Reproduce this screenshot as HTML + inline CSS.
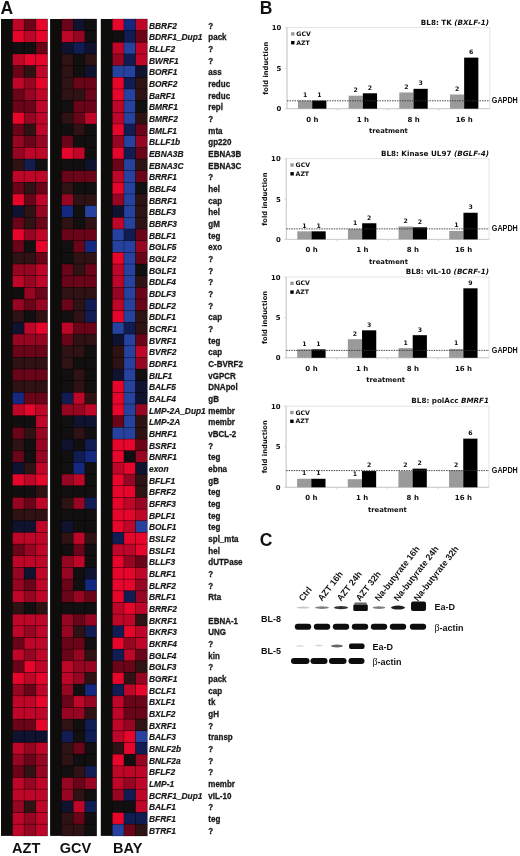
<!DOCTYPE html><html><head><meta charset="utf-8"><title>Figure</title><style>
html,body{margin:0;padding:0;background:#fff;}body{width:520px;height:856px;overflow:hidden;position:relative;}
svg{position:absolute;left:0;top:0;}
.g{font-family:"Liberation Sans",Arial,sans-serif;font-weight:bold;font-style:italic;font-size:8.4px;fill:#1a1a1a;stroke:#1a1a1a;stroke-width:0.2px;}
.f{font-family:"Liberation Sans",Arial,sans-serif;font-weight:bold;font-size:8.9px;fill:#1a1a1a;stroke:#1a1a1a;stroke-width:0.3px;}
.pl{font-family:"Liberation Sans",Arial,sans-serif;font-weight:bold;font-size:17.5px;fill:#111;}
.bl{font-family:"Liberation Sans",Arial,sans-serif;font-weight:bold;font-size:14.5px;fill:#111;}
.c{font-family:"DejaVu Sans",Verdana,sans-serif;font-weight:bold;fill:#111;}
.ln{font-family:"Liberation Sans",Arial,sans-serif;font-weight:bold;font-size:8.9px;fill:#161616;}
.lb{font-family:"Liberation Sans",Arial,sans-serif;font-weight:bold;font-size:9px;fill:#111;}
</style></head><body>
<svg width="520" height="856" viewBox="0 0 520 856">
<text class="pl" x="0.5" y="13.8">A</text>
<rect x="1.0" y="19.0" width="46.4" height="816.90" fill="#0f0c0c"/>
<rect x="50.1" y="19.0" width="46.4" height="816.90" fill="#0f0c0c"/>
<rect x="100.8" y="19.0" width="46.4" height="816.90" fill="#0f0c0c"/>
<rect x="12.60" y="19.00" width="11.65" height="11.72" fill="#be0628" stroke="rgba(0,0,0,0.35)" stroke-width="0.7"/>
<rect x="24.20" y="19.00" width="11.65" height="11.72" fill="#6a0418" stroke="rgba(0,0,0,0.35)" stroke-width="0.7"/>
<rect x="35.80" y="19.00" width="11.65" height="11.72" fill="#e6062c" stroke="rgba(0,0,0,0.35)" stroke-width="0.7"/>
<rect x="61.70" y="19.00" width="11.65" height="11.72" fill="#6a0418" stroke="rgba(0,0,0,0.35)" stroke-width="0.7"/>
<rect x="73.30" y="19.00" width="11.65" height="11.72" fill="#0f1330" stroke="rgba(0,0,0,0.35)" stroke-width="0.7"/>
<rect x="84.90" y="19.00" width="11.65" height="11.72" fill="#120f10" stroke="rgba(0,0,0,0.35)" stroke-width="0.7"/>
<rect x="112.40" y="19.00" width="11.65" height="11.72" fill="#e6062c" stroke="rgba(0,0,0,0.35)" stroke-width="0.7"/>
<rect x="124.00" y="19.00" width="11.65" height="11.72" fill="#13287e" stroke="rgba(0,0,0,0.35)" stroke-width="0.7"/>
<rect x="135.60" y="19.00" width="11.65" height="11.72" fill="#be0628" stroke="rgba(0,0,0,0.35)" stroke-width="0.7"/>
<text class="g" x="149" y="28.54">BBRF2</text>
<text class="f" transform="translate(208.3,28.54) scale(0.9,1)">?</text>
<rect x="12.60" y="30.67" width="11.65" height="11.72" fill="#e6062c" stroke="rgba(0,0,0,0.35)" stroke-width="0.7"/>
<rect x="24.20" y="30.67" width="11.65" height="11.72" fill="#be0628" stroke="rgba(0,0,0,0.35)" stroke-width="0.7"/>
<rect x="35.80" y="30.67" width="11.65" height="11.72" fill="#e6062c" stroke="rgba(0,0,0,0.35)" stroke-width="0.7"/>
<rect x="61.70" y="30.67" width="11.65" height="11.72" fill="#be0628" stroke="rgba(0,0,0,0.35)" stroke-width="0.7"/>
<rect x="73.30" y="30.67" width="11.65" height="11.72" fill="#960622" stroke="rgba(0,0,0,0.35)" stroke-width="0.7"/>
<rect x="84.90" y="30.67" width="11.65" height="11.72" fill="#120f10" stroke="rgba(0,0,0,0.35)" stroke-width="0.7"/>
<rect x="112.40" y="30.67" width="11.65" height="11.72" fill="#120f10" stroke="rgba(0,0,0,0.35)" stroke-width="0.7"/>
<rect x="124.00" y="30.67" width="11.65" height="11.72" fill="#111d52" stroke="rgba(0,0,0,0.35)" stroke-width="0.7"/>
<rect x="135.60" y="30.67" width="11.65" height="11.72" fill="#6a0418" stroke="rgba(0,0,0,0.35)" stroke-width="0.7"/>
<text class="g" x="149" y="40.21">BDRF1_Dup1</text>
<text class="f" transform="translate(208.3,40.21) scale(0.9,1)">pack</text>
<rect x="12.60" y="42.34" width="11.65" height="11.72" fill="#120f10" stroke="rgba(0,0,0,0.35)" stroke-width="0.7"/>
<rect x="24.20" y="42.34" width="11.65" height="11.72" fill="#120f10" stroke="rgba(0,0,0,0.35)" stroke-width="0.7"/>
<rect x="35.80" y="42.34" width="11.65" height="11.72" fill="#6a0418" stroke="rgba(0,0,0,0.35)" stroke-width="0.7"/>
<rect x="61.70" y="42.34" width="11.65" height="11.72" fill="#0f1330" stroke="rgba(0,0,0,0.35)" stroke-width="0.7"/>
<rect x="73.30" y="42.34" width="11.65" height="11.72" fill="#111d52" stroke="rgba(0,0,0,0.35)" stroke-width="0.7"/>
<rect x="84.90" y="42.34" width="11.65" height="11.72" fill="#0f1330" stroke="rgba(0,0,0,0.35)" stroke-width="0.7"/>
<rect x="112.40" y="42.34" width="11.65" height="11.72" fill="#be0628" stroke="rgba(0,0,0,0.35)" stroke-width="0.7"/>
<rect x="124.00" y="42.34" width="11.65" height="11.72" fill="#26429e" stroke="rgba(0,0,0,0.35)" stroke-width="0.7"/>
<rect x="135.60" y="42.34" width="11.65" height="11.72" fill="#be0628" stroke="rgba(0,0,0,0.35)" stroke-width="0.7"/>
<text class="g" x="149" y="51.88">BLLF2</text>
<text class="f" transform="translate(208.3,51.88) scale(0.9,1)">?</text>
<rect x="12.60" y="54.01" width="11.65" height="11.72" fill="#be0628" stroke="rgba(0,0,0,0.35)" stroke-width="0.7"/>
<rect x="24.20" y="54.01" width="11.65" height="11.72" fill="#e6062c" stroke="rgba(0,0,0,0.35)" stroke-width="0.7"/>
<rect x="35.80" y="54.01" width="11.65" height="11.72" fill="#e6062c" stroke="rgba(0,0,0,0.35)" stroke-width="0.7"/>
<rect x="61.70" y="54.01" width="11.65" height="11.72" fill="#2e1214" stroke="rgba(0,0,0,0.35)" stroke-width="0.7"/>
<rect x="73.30" y="54.01" width="11.65" height="11.72" fill="#120f10" stroke="rgba(0,0,0,0.35)" stroke-width="0.7"/>
<rect x="84.90" y="54.01" width="11.65" height="11.72" fill="#2e1214" stroke="rgba(0,0,0,0.35)" stroke-width="0.7"/>
<rect x="112.40" y="54.01" width="11.65" height="11.72" fill="#960622" stroke="rgba(0,0,0,0.35)" stroke-width="0.7"/>
<rect x="124.00" y="54.01" width="11.65" height="11.72" fill="#111d52" stroke="rgba(0,0,0,0.35)" stroke-width="0.7"/>
<rect x="135.60" y="54.01" width="11.65" height="11.72" fill="#be0628" stroke="rgba(0,0,0,0.35)" stroke-width="0.7"/>
<text class="g" x="149" y="63.55">BWRF1</text>
<text class="f" transform="translate(208.3,63.55) scale(0.9,1)">?</text>
<rect x="12.60" y="65.68" width="11.65" height="11.72" fill="#6a0418" stroke="rgba(0,0,0,0.35)" stroke-width="0.7"/>
<rect x="24.20" y="65.68" width="11.65" height="11.72" fill="#2e1214" stroke="rgba(0,0,0,0.35)" stroke-width="0.7"/>
<rect x="35.80" y="65.68" width="11.65" height="11.72" fill="#be0628" stroke="rgba(0,0,0,0.35)" stroke-width="0.7"/>
<rect x="61.70" y="65.68" width="11.65" height="11.72" fill="#2e1214" stroke="rgba(0,0,0,0.35)" stroke-width="0.7"/>
<rect x="73.30" y="65.68" width="11.65" height="11.72" fill="#120f10" stroke="rgba(0,0,0,0.35)" stroke-width="0.7"/>
<rect x="84.90" y="65.68" width="11.65" height="11.72" fill="#0f1330" stroke="rgba(0,0,0,0.35)" stroke-width="0.7"/>
<rect x="112.40" y="65.68" width="11.65" height="11.72" fill="#26429e" stroke="rgba(0,0,0,0.35)" stroke-width="0.7"/>
<rect x="124.00" y="65.68" width="11.65" height="11.72" fill="#26429e" stroke="rgba(0,0,0,0.35)" stroke-width="0.7"/>
<rect x="135.60" y="65.68" width="11.65" height="11.72" fill="#0f1330" stroke="rgba(0,0,0,0.35)" stroke-width="0.7"/>
<text class="g" x="149" y="75.22">BORF1</text>
<text class="f" transform="translate(208.3,75.22) scale(0.9,1)">ass</text>
<rect x="12.60" y="77.35" width="11.65" height="11.72" fill="#be0628" stroke="rgba(0,0,0,0.35)" stroke-width="0.7"/>
<rect x="24.20" y="77.35" width="11.65" height="11.72" fill="#960622" stroke="rgba(0,0,0,0.35)" stroke-width="0.7"/>
<rect x="35.80" y="77.35" width="11.65" height="11.72" fill="#e6062c" stroke="rgba(0,0,0,0.35)" stroke-width="0.7"/>
<rect x="61.70" y="77.35" width="11.65" height="11.72" fill="#2e1214" stroke="rgba(0,0,0,0.35)" stroke-width="0.7"/>
<rect x="73.30" y="77.35" width="11.65" height="11.72" fill="#6a0418" stroke="rgba(0,0,0,0.35)" stroke-width="0.7"/>
<rect x="84.90" y="77.35" width="11.65" height="11.72" fill="#6a0418" stroke="rgba(0,0,0,0.35)" stroke-width="0.7"/>
<rect x="112.40" y="77.35" width="11.65" height="11.72" fill="#e6062c" stroke="rgba(0,0,0,0.35)" stroke-width="0.7"/>
<rect x="124.00" y="77.35" width="11.65" height="11.72" fill="#111d52" stroke="rgba(0,0,0,0.35)" stroke-width="0.7"/>
<rect x="135.60" y="77.35" width="11.65" height="11.72" fill="#2e1214" stroke="rgba(0,0,0,0.35)" stroke-width="0.7"/>
<text class="g" x="149" y="86.88">BORF2</text>
<text class="f" transform="translate(208.3,86.88) scale(0.9,1)">reduc</text>
<rect x="12.60" y="89.02" width="11.65" height="11.72" fill="#6a0418" stroke="rgba(0,0,0,0.35)" stroke-width="0.7"/>
<rect x="24.20" y="89.02" width="11.65" height="11.72" fill="#960622" stroke="rgba(0,0,0,0.35)" stroke-width="0.7"/>
<rect x="35.80" y="89.02" width="11.65" height="11.72" fill="#be0628" stroke="rgba(0,0,0,0.35)" stroke-width="0.7"/>
<rect x="61.70" y="89.02" width="11.65" height="11.72" fill="#2e1214" stroke="rgba(0,0,0,0.35)" stroke-width="0.7"/>
<rect x="73.30" y="89.02" width="11.65" height="11.72" fill="#2e1214" stroke="rgba(0,0,0,0.35)" stroke-width="0.7"/>
<rect x="84.90" y="89.02" width="11.65" height="11.72" fill="#6a0418" stroke="rgba(0,0,0,0.35)" stroke-width="0.7"/>
<rect x="112.40" y="89.02" width="11.65" height="11.72" fill="#e6062c" stroke="rgba(0,0,0,0.35)" stroke-width="0.7"/>
<rect x="124.00" y="89.02" width="11.65" height="11.72" fill="#26429e" stroke="rgba(0,0,0,0.35)" stroke-width="0.7"/>
<rect x="135.60" y="89.02" width="11.65" height="11.72" fill="#2e1214" stroke="rgba(0,0,0,0.35)" stroke-width="0.7"/>
<text class="g" x="149" y="98.55">BaRF1</text>
<text class="f" transform="translate(208.3,98.55) scale(0.9,1)">reduc</text>
<rect x="12.60" y="100.69" width="11.65" height="11.72" fill="#6a0418" stroke="rgba(0,0,0,0.35)" stroke-width="0.7"/>
<rect x="24.20" y="100.69" width="11.65" height="11.72" fill="#6a0418" stroke="rgba(0,0,0,0.35)" stroke-width="0.7"/>
<rect x="35.80" y="100.69" width="11.65" height="11.72" fill="#be0628" stroke="rgba(0,0,0,0.35)" stroke-width="0.7"/>
<rect x="61.70" y="100.69" width="11.65" height="11.72" fill="#120f10" stroke="rgba(0,0,0,0.35)" stroke-width="0.7"/>
<rect x="73.30" y="100.69" width="11.65" height="11.72" fill="#6a0418" stroke="rgba(0,0,0,0.35)" stroke-width="0.7"/>
<rect x="84.90" y="100.69" width="11.65" height="11.72" fill="#6a0418" stroke="rgba(0,0,0,0.35)" stroke-width="0.7"/>
<rect x="112.40" y="100.69" width="11.65" height="11.72" fill="#be0628" stroke="rgba(0,0,0,0.35)" stroke-width="0.7"/>
<rect x="124.00" y="100.69" width="11.65" height="11.72" fill="#26429e" stroke="rgba(0,0,0,0.35)" stroke-width="0.7"/>
<rect x="135.60" y="100.69" width="11.65" height="11.72" fill="#120f10" stroke="rgba(0,0,0,0.35)" stroke-width="0.7"/>
<text class="g" x="149" y="110.22">BMRF1</text>
<text class="f" transform="translate(208.3,110.22) scale(0.9,1)">repl</text>
<rect x="12.60" y="112.36" width="11.65" height="11.72" fill="#e6062c" stroke="rgba(0,0,0,0.35)" stroke-width="0.7"/>
<rect x="24.20" y="112.36" width="11.65" height="11.72" fill="#960622" stroke="rgba(0,0,0,0.35)" stroke-width="0.7"/>
<rect x="35.80" y="112.36" width="11.65" height="11.72" fill="#be0628" stroke="rgba(0,0,0,0.35)" stroke-width="0.7"/>
<rect x="61.70" y="112.36" width="11.65" height="11.72" fill="#2e1214" stroke="rgba(0,0,0,0.35)" stroke-width="0.7"/>
<rect x="73.30" y="112.36" width="11.65" height="11.72" fill="#6a0418" stroke="rgba(0,0,0,0.35)" stroke-width="0.7"/>
<rect x="84.90" y="112.36" width="11.65" height="11.72" fill="#be0628" stroke="rgba(0,0,0,0.35)" stroke-width="0.7"/>
<rect x="112.40" y="112.36" width="11.65" height="11.72" fill="#be0628" stroke="rgba(0,0,0,0.35)" stroke-width="0.7"/>
<rect x="124.00" y="112.36" width="11.65" height="11.72" fill="#26429e" stroke="rgba(0,0,0,0.35)" stroke-width="0.7"/>
<rect x="135.60" y="112.36" width="11.65" height="11.72" fill="#2e1214" stroke="rgba(0,0,0,0.35)" stroke-width="0.7"/>
<text class="g" x="149" y="121.89">BMRF2</text>
<text class="f" transform="translate(208.3,121.89) scale(0.9,1)">?</text>
<rect x="12.60" y="124.03" width="11.65" height="11.72" fill="#6a0418" stroke="rgba(0,0,0,0.35)" stroke-width="0.7"/>
<rect x="24.20" y="124.03" width="11.65" height="11.72" fill="#2e1214" stroke="rgba(0,0,0,0.35)" stroke-width="0.7"/>
<rect x="35.80" y="124.03" width="11.65" height="11.72" fill="#be0628" stroke="rgba(0,0,0,0.35)" stroke-width="0.7"/>
<rect x="61.70" y="124.03" width="11.65" height="11.72" fill="#120f10" stroke="rgba(0,0,0,0.35)" stroke-width="0.7"/>
<rect x="73.30" y="124.03" width="11.65" height="11.72" fill="#2e1214" stroke="rgba(0,0,0,0.35)" stroke-width="0.7"/>
<rect x="84.90" y="124.03" width="11.65" height="11.72" fill="#120f10" stroke="rgba(0,0,0,0.35)" stroke-width="0.7"/>
<rect x="112.40" y="124.03" width="11.65" height="11.72" fill="#e6062c" stroke="rgba(0,0,0,0.35)" stroke-width="0.7"/>
<rect x="124.00" y="124.03" width="11.65" height="11.72" fill="#111d52" stroke="rgba(0,0,0,0.35)" stroke-width="0.7"/>
<rect x="135.60" y="124.03" width="11.65" height="11.72" fill="#6a0418" stroke="rgba(0,0,0,0.35)" stroke-width="0.7"/>
<text class="g" x="149" y="133.56">BMLF1</text>
<text class="f" transform="translate(208.3,133.56) scale(0.9,1)">mta</text>
<rect x="12.60" y="135.70" width="11.65" height="11.72" fill="#960622" stroke="rgba(0,0,0,0.35)" stroke-width="0.7"/>
<rect x="24.20" y="135.70" width="11.65" height="11.72" fill="#6a0418" stroke="rgba(0,0,0,0.35)" stroke-width="0.7"/>
<rect x="35.80" y="135.70" width="11.65" height="11.72" fill="#960622" stroke="rgba(0,0,0,0.35)" stroke-width="0.7"/>
<rect x="61.70" y="135.70" width="11.65" height="11.72" fill="#6a0418" stroke="rgba(0,0,0,0.35)" stroke-width="0.7"/>
<rect x="73.30" y="135.70" width="11.65" height="11.72" fill="#120f10" stroke="rgba(0,0,0,0.35)" stroke-width="0.7"/>
<rect x="84.90" y="135.70" width="11.65" height="11.72" fill="#120f10" stroke="rgba(0,0,0,0.35)" stroke-width="0.7"/>
<rect x="112.40" y="135.70" width="11.65" height="11.72" fill="#960622" stroke="rgba(0,0,0,0.35)" stroke-width="0.7"/>
<rect x="124.00" y="135.70" width="11.65" height="11.72" fill="#26429e" stroke="rgba(0,0,0,0.35)" stroke-width="0.7"/>
<rect x="135.60" y="135.70" width="11.65" height="11.72" fill="#960622" stroke="rgba(0,0,0,0.35)" stroke-width="0.7"/>
<text class="g" x="149" y="145.23">BLLF1b</text>
<text class="f" transform="translate(208.3,145.23) scale(0.9,1)">gp220</text>
<rect x="12.60" y="147.37" width="11.65" height="11.72" fill="#960622" stroke="rgba(0,0,0,0.35)" stroke-width="0.7"/>
<rect x="24.20" y="147.37" width="11.65" height="11.72" fill="#be0628" stroke="rgba(0,0,0,0.35)" stroke-width="0.7"/>
<rect x="35.80" y="147.37" width="11.65" height="11.72" fill="#be0628" stroke="rgba(0,0,0,0.35)" stroke-width="0.7"/>
<rect x="61.70" y="147.37" width="11.65" height="11.72" fill="#e6062c" stroke="rgba(0,0,0,0.35)" stroke-width="0.7"/>
<rect x="73.30" y="147.37" width="11.65" height="11.72" fill="#be0628" stroke="rgba(0,0,0,0.35)" stroke-width="0.7"/>
<rect x="84.90" y="147.37" width="11.65" height="11.72" fill="#120f10" stroke="rgba(0,0,0,0.35)" stroke-width="0.7"/>
<rect x="112.40" y="147.37" width="11.65" height="11.72" fill="#e6062c" stroke="rgba(0,0,0,0.35)" stroke-width="0.7"/>
<rect x="124.00" y="147.37" width="11.65" height="11.72" fill="#111d52" stroke="rgba(0,0,0,0.35)" stroke-width="0.7"/>
<rect x="135.60" y="147.37" width="11.65" height="11.72" fill="#6a0418" stroke="rgba(0,0,0,0.35)" stroke-width="0.7"/>
<text class="g" x="149" y="156.91">EBNA3B</text>
<text class="f" transform="translate(208.3,156.91) scale(0.9,1)">EBNA3B</text>
<rect x="12.60" y="159.04" width="11.65" height="11.72" fill="#2e1214" stroke="rgba(0,0,0,0.35)" stroke-width="0.7"/>
<rect x="24.20" y="159.04" width="11.65" height="11.72" fill="#131c4a" stroke="rgba(0,0,0,0.35)" stroke-width="0.7"/>
<rect x="35.80" y="159.04" width="11.65" height="11.72" fill="#120f10" stroke="rgba(0,0,0,0.35)" stroke-width="0.7"/>
<rect x="61.70" y="159.04" width="11.65" height="11.72" fill="#120f10" stroke="rgba(0,0,0,0.35)" stroke-width="0.7"/>
<rect x="73.30" y="159.04" width="11.65" height="11.72" fill="#120f10" stroke="rgba(0,0,0,0.35)" stroke-width="0.7"/>
<rect x="84.90" y="159.04" width="11.65" height="11.72" fill="#0f1330" stroke="rgba(0,0,0,0.35)" stroke-width="0.7"/>
<rect x="112.40" y="159.04" width="11.65" height="11.72" fill="#6a0418" stroke="rgba(0,0,0,0.35)" stroke-width="0.7"/>
<rect x="124.00" y="159.04" width="11.65" height="11.72" fill="#26429e" stroke="rgba(0,0,0,0.35)" stroke-width="0.7"/>
<rect x="135.60" y="159.04" width="11.65" height="11.72" fill="#2e1214" stroke="rgba(0,0,0,0.35)" stroke-width="0.7"/>
<text class="g" x="149" y="168.57">EBNA3C</text>
<text class="f" transform="translate(208.3,168.57) scale(0.9,1)">EBNA3C</text>
<rect x="12.60" y="170.71" width="11.65" height="11.72" fill="#be0628" stroke="rgba(0,0,0,0.35)" stroke-width="0.7"/>
<rect x="24.20" y="170.71" width="11.65" height="11.72" fill="#be0628" stroke="rgba(0,0,0,0.35)" stroke-width="0.7"/>
<rect x="35.80" y="170.71" width="11.65" height="11.72" fill="#be0628" stroke="rgba(0,0,0,0.35)" stroke-width="0.7"/>
<rect x="61.70" y="170.71" width="11.65" height="11.72" fill="#6a0418" stroke="rgba(0,0,0,0.35)" stroke-width="0.7"/>
<rect x="73.30" y="170.71" width="11.65" height="11.72" fill="#6a0418" stroke="rgba(0,0,0,0.35)" stroke-width="0.7"/>
<rect x="84.90" y="170.71" width="11.65" height="11.72" fill="#6a0418" stroke="rgba(0,0,0,0.35)" stroke-width="0.7"/>
<rect x="112.40" y="170.71" width="11.65" height="11.72" fill="#be0628" stroke="rgba(0,0,0,0.35)" stroke-width="0.7"/>
<rect x="124.00" y="170.71" width="11.65" height="11.72" fill="#26429e" stroke="rgba(0,0,0,0.35)" stroke-width="0.7"/>
<rect x="135.60" y="170.71" width="11.65" height="11.72" fill="#6a0418" stroke="rgba(0,0,0,0.35)" stroke-width="0.7"/>
<text class="g" x="149" y="180.25">BRRF1</text>
<text class="f" transform="translate(208.3,180.25) scale(0.9,1)">?</text>
<rect x="12.60" y="182.38" width="11.65" height="11.72" fill="#6a0418" stroke="rgba(0,0,0,0.35)" stroke-width="0.7"/>
<rect x="24.20" y="182.38" width="11.65" height="11.72" fill="#2e1214" stroke="rgba(0,0,0,0.35)" stroke-width="0.7"/>
<rect x="35.80" y="182.38" width="11.65" height="11.72" fill="#6a0418" stroke="rgba(0,0,0,0.35)" stroke-width="0.7"/>
<rect x="61.70" y="182.38" width="11.65" height="11.72" fill="#2e1214" stroke="rgba(0,0,0,0.35)" stroke-width="0.7"/>
<rect x="73.30" y="182.38" width="11.65" height="11.72" fill="#120f10" stroke="rgba(0,0,0,0.35)" stroke-width="0.7"/>
<rect x="84.90" y="182.38" width="11.65" height="11.72" fill="#120f10" stroke="rgba(0,0,0,0.35)" stroke-width="0.7"/>
<rect x="112.40" y="182.38" width="11.65" height="11.72" fill="#e6062c" stroke="rgba(0,0,0,0.35)" stroke-width="0.7"/>
<rect x="124.00" y="182.38" width="11.65" height="11.72" fill="#26429e" stroke="rgba(0,0,0,0.35)" stroke-width="0.7"/>
<rect x="135.60" y="182.38" width="11.65" height="11.72" fill="#120f10" stroke="rgba(0,0,0,0.35)" stroke-width="0.7"/>
<text class="g" x="149" y="191.91">BBLF4</text>
<text class="f" transform="translate(208.3,191.91) scale(0.9,1)">hel</text>
<rect x="12.60" y="194.05" width="11.65" height="11.72" fill="#e6062c" stroke="rgba(0,0,0,0.35)" stroke-width="0.7"/>
<rect x="24.20" y="194.05" width="11.65" height="11.72" fill="#6a0418" stroke="rgba(0,0,0,0.35)" stroke-width="0.7"/>
<rect x="35.80" y="194.05" width="11.65" height="11.72" fill="#be0628" stroke="rgba(0,0,0,0.35)" stroke-width="0.7"/>
<rect x="61.70" y="194.05" width="11.65" height="11.72" fill="#960622" stroke="rgba(0,0,0,0.35)" stroke-width="0.7"/>
<rect x="73.30" y="194.05" width="11.65" height="11.72" fill="#2e1214" stroke="rgba(0,0,0,0.35)" stroke-width="0.7"/>
<rect x="84.90" y="194.05" width="11.65" height="11.72" fill="#2e1214" stroke="rgba(0,0,0,0.35)" stroke-width="0.7"/>
<rect x="112.40" y="194.05" width="11.65" height="11.72" fill="#960622" stroke="rgba(0,0,0,0.35)" stroke-width="0.7"/>
<rect x="124.00" y="194.05" width="11.65" height="11.72" fill="#26429e" stroke="rgba(0,0,0,0.35)" stroke-width="0.7"/>
<rect x="135.60" y="194.05" width="11.65" height="11.72" fill="#2e1214" stroke="rgba(0,0,0,0.35)" stroke-width="0.7"/>
<text class="g" x="149" y="203.59">BBRF1</text>
<text class="f" transform="translate(208.3,203.59) scale(0.9,1)">cap</text>
<rect x="12.60" y="205.72" width="11.65" height="11.72" fill="#0f1330" stroke="rgba(0,0,0,0.35)" stroke-width="0.7"/>
<rect x="24.20" y="205.72" width="11.65" height="11.72" fill="#2e1214" stroke="rgba(0,0,0,0.35)" stroke-width="0.7"/>
<rect x="35.80" y="205.72" width="11.65" height="11.72" fill="#960622" stroke="rgba(0,0,0,0.35)" stroke-width="0.7"/>
<rect x="61.70" y="205.72" width="11.65" height="11.72" fill="#13287e" stroke="rgba(0,0,0,0.35)" stroke-width="0.7"/>
<rect x="73.30" y="205.72" width="11.65" height="11.72" fill="#120f10" stroke="rgba(0,0,0,0.35)" stroke-width="0.7"/>
<rect x="84.90" y="205.72" width="11.65" height="11.72" fill="#26429e" stroke="rgba(0,0,0,0.35)" stroke-width="0.7"/>
<rect x="112.40" y="205.72" width="11.65" height="11.72" fill="#0f1330" stroke="rgba(0,0,0,0.35)" stroke-width="0.7"/>
<rect x="124.00" y="205.72" width="11.65" height="11.72" fill="#26429e" stroke="rgba(0,0,0,0.35)" stroke-width="0.7"/>
<rect x="135.60" y="205.72" width="11.65" height="11.72" fill="#2e1214" stroke="rgba(0,0,0,0.35)" stroke-width="0.7"/>
<text class="g" x="149" y="215.25">BBLF3</text>
<text class="f" transform="translate(208.3,215.25) scale(0.9,1)">hel</text>
<rect x="12.60" y="217.39" width="11.65" height="11.72" fill="#6a0418" stroke="rgba(0,0,0,0.35)" stroke-width="0.7"/>
<rect x="24.20" y="217.39" width="11.65" height="11.72" fill="#2e1214" stroke="rgba(0,0,0,0.35)" stroke-width="0.7"/>
<rect x="35.80" y="217.39" width="11.65" height="11.72" fill="#6a0418" stroke="rgba(0,0,0,0.35)" stroke-width="0.7"/>
<rect x="61.70" y="217.39" width="11.65" height="11.72" fill="#2e1214" stroke="rgba(0,0,0,0.35)" stroke-width="0.7"/>
<rect x="73.30" y="217.39" width="11.65" height="11.72" fill="#120f10" stroke="rgba(0,0,0,0.35)" stroke-width="0.7"/>
<rect x="84.90" y="217.39" width="11.65" height="11.72" fill="#2e1214" stroke="rgba(0,0,0,0.35)" stroke-width="0.7"/>
<rect x="112.40" y="217.39" width="11.65" height="11.72" fill="#be0628" stroke="rgba(0,0,0,0.35)" stroke-width="0.7"/>
<rect x="124.00" y="217.39" width="11.65" height="11.72" fill="#26429e" stroke="rgba(0,0,0,0.35)" stroke-width="0.7"/>
<rect x="135.60" y="217.39" width="11.65" height="11.72" fill="#2e1214" stroke="rgba(0,0,0,0.35)" stroke-width="0.7"/>
<text class="g" x="149" y="226.92">BBRF3</text>
<text class="f" transform="translate(208.3,226.92) scale(0.9,1)">gM</text>
<rect x="12.60" y="229.06" width="11.65" height="11.72" fill="#e6062c" stroke="rgba(0,0,0,0.35)" stroke-width="0.7"/>
<rect x="24.20" y="229.06" width="11.65" height="11.72" fill="#960622" stroke="rgba(0,0,0,0.35)" stroke-width="0.7"/>
<rect x="35.80" y="229.06" width="11.65" height="11.72" fill="#be0628" stroke="rgba(0,0,0,0.35)" stroke-width="0.7"/>
<rect x="61.70" y="229.06" width="11.65" height="11.72" fill="#6a0418" stroke="rgba(0,0,0,0.35)" stroke-width="0.7"/>
<rect x="73.30" y="229.06" width="11.65" height="11.72" fill="#6a0418" stroke="rgba(0,0,0,0.35)" stroke-width="0.7"/>
<rect x="84.90" y="229.06" width="11.65" height="11.72" fill="#6a0418" stroke="rgba(0,0,0,0.35)" stroke-width="0.7"/>
<rect x="112.40" y="229.06" width="11.65" height="11.72" fill="#26429e" stroke="rgba(0,0,0,0.35)" stroke-width="0.7"/>
<rect x="124.00" y="229.06" width="11.65" height="11.72" fill="#111d52" stroke="rgba(0,0,0,0.35)" stroke-width="0.7"/>
<rect x="135.60" y="229.06" width="11.65" height="11.72" fill="#6a0418" stroke="rgba(0,0,0,0.35)" stroke-width="0.7"/>
<text class="g" x="149" y="238.59">BBLF1</text>
<text class="f" transform="translate(208.3,238.59) scale(0.9,1)">teg</text>
<rect x="12.60" y="240.73" width="11.65" height="11.72" fill="#6a0418" stroke="rgba(0,0,0,0.35)" stroke-width="0.7"/>
<rect x="24.20" y="240.73" width="11.65" height="11.72" fill="#120f10" stroke="rgba(0,0,0,0.35)" stroke-width="0.7"/>
<rect x="35.80" y="240.73" width="11.65" height="11.72" fill="#e6062c" stroke="rgba(0,0,0,0.35)" stroke-width="0.7"/>
<rect x="61.70" y="240.73" width="11.65" height="11.72" fill="#120f10" stroke="rgba(0,0,0,0.35)" stroke-width="0.7"/>
<rect x="73.30" y="240.73" width="11.65" height="11.72" fill="#6a0418" stroke="rgba(0,0,0,0.35)" stroke-width="0.7"/>
<rect x="84.90" y="240.73" width="11.65" height="11.72" fill="#13287e" stroke="rgba(0,0,0,0.35)" stroke-width="0.7"/>
<rect x="112.40" y="240.73" width="11.65" height="11.72" fill="#26429e" stroke="rgba(0,0,0,0.35)" stroke-width="0.7"/>
<rect x="124.00" y="240.73" width="11.65" height="11.72" fill="#26429e" stroke="rgba(0,0,0,0.35)" stroke-width="0.7"/>
<rect x="135.60" y="240.73" width="11.65" height="11.72" fill="#960622" stroke="rgba(0,0,0,0.35)" stroke-width="0.7"/>
<text class="g" x="149" y="250.26">BGLF5</text>
<text class="f" transform="translate(208.3,250.26) scale(0.9,1)">exo</text>
<rect x="12.60" y="252.40" width="11.65" height="11.72" fill="#2e1214" stroke="rgba(0,0,0,0.35)" stroke-width="0.7"/>
<rect x="24.20" y="252.40" width="11.65" height="11.72" fill="#2e1214" stroke="rgba(0,0,0,0.35)" stroke-width="0.7"/>
<rect x="35.80" y="252.40" width="11.65" height="11.72" fill="#6a0418" stroke="rgba(0,0,0,0.35)" stroke-width="0.7"/>
<rect x="61.70" y="252.40" width="11.65" height="11.72" fill="#120f10" stroke="rgba(0,0,0,0.35)" stroke-width="0.7"/>
<rect x="73.30" y="252.40" width="11.65" height="11.72" fill="#2e1214" stroke="rgba(0,0,0,0.35)" stroke-width="0.7"/>
<rect x="84.90" y="252.40" width="11.65" height="11.72" fill="#2e1214" stroke="rgba(0,0,0,0.35)" stroke-width="0.7"/>
<rect x="112.40" y="252.40" width="11.65" height="11.72" fill="#e6062c" stroke="rgba(0,0,0,0.35)" stroke-width="0.7"/>
<rect x="124.00" y="252.40" width="11.65" height="11.72" fill="#26429e" stroke="rgba(0,0,0,0.35)" stroke-width="0.7"/>
<rect x="135.60" y="252.40" width="11.65" height="11.72" fill="#6a0418" stroke="rgba(0,0,0,0.35)" stroke-width="0.7"/>
<text class="g" x="149" y="261.94">BGLF2</text>
<text class="f" transform="translate(208.3,261.94) scale(0.9,1)">?</text>
<rect x="12.60" y="264.07" width="11.65" height="11.72" fill="#960622" stroke="rgba(0,0,0,0.35)" stroke-width="0.7"/>
<rect x="24.20" y="264.07" width="11.65" height="11.72" fill="#960622" stroke="rgba(0,0,0,0.35)" stroke-width="0.7"/>
<rect x="35.80" y="264.07" width="11.65" height="11.72" fill="#be0628" stroke="rgba(0,0,0,0.35)" stroke-width="0.7"/>
<rect x="61.70" y="264.07" width="11.65" height="11.72" fill="#6a0418" stroke="rgba(0,0,0,0.35)" stroke-width="0.7"/>
<rect x="73.30" y="264.07" width="11.65" height="11.72" fill="#2e1214" stroke="rgba(0,0,0,0.35)" stroke-width="0.7"/>
<rect x="84.90" y="264.07" width="11.65" height="11.72" fill="#6a0418" stroke="rgba(0,0,0,0.35)" stroke-width="0.7"/>
<rect x="112.40" y="264.07" width="11.65" height="11.72" fill="#be0628" stroke="rgba(0,0,0,0.35)" stroke-width="0.7"/>
<rect x="124.00" y="264.07" width="11.65" height="11.72" fill="#26429e" stroke="rgba(0,0,0,0.35)" stroke-width="0.7"/>
<rect x="135.60" y="264.07" width="11.65" height="11.72" fill="#120f10" stroke="rgba(0,0,0,0.35)" stroke-width="0.7"/>
<text class="g" x="149" y="273.60">BGLF1</text>
<text class="f" transform="translate(208.3,273.60) scale(0.9,1)">?</text>
<rect x="12.60" y="275.74" width="11.65" height="11.72" fill="#be0628" stroke="rgba(0,0,0,0.35)" stroke-width="0.7"/>
<rect x="24.20" y="275.74" width="11.65" height="11.72" fill="#960622" stroke="rgba(0,0,0,0.35)" stroke-width="0.7"/>
<rect x="35.80" y="275.74" width="11.65" height="11.72" fill="#be0628" stroke="rgba(0,0,0,0.35)" stroke-width="0.7"/>
<rect x="61.70" y="275.74" width="11.65" height="11.72" fill="#6a0418" stroke="rgba(0,0,0,0.35)" stroke-width="0.7"/>
<rect x="73.30" y="275.74" width="11.65" height="11.72" fill="#6a0418" stroke="rgba(0,0,0,0.35)" stroke-width="0.7"/>
<rect x="84.90" y="275.74" width="11.65" height="11.72" fill="#6a0418" stroke="rgba(0,0,0,0.35)" stroke-width="0.7"/>
<rect x="112.40" y="275.74" width="11.65" height="11.72" fill="#be0628" stroke="rgba(0,0,0,0.35)" stroke-width="0.7"/>
<rect x="124.00" y="275.74" width="11.65" height="11.72" fill="#26429e" stroke="rgba(0,0,0,0.35)" stroke-width="0.7"/>
<rect x="135.60" y="275.74" width="11.65" height="11.72" fill="#2e1214" stroke="rgba(0,0,0,0.35)" stroke-width="0.7"/>
<text class="g" x="149" y="285.27">BDLF4</text>
<text class="f" transform="translate(208.3,285.27) scale(0.9,1)">?</text>
<rect x="12.60" y="287.41" width="11.65" height="11.72" fill="#120f10" stroke="rgba(0,0,0,0.35)" stroke-width="0.7"/>
<rect x="24.20" y="287.41" width="11.65" height="11.72" fill="#960622" stroke="rgba(0,0,0,0.35)" stroke-width="0.7"/>
<rect x="35.80" y="287.41" width="11.65" height="11.72" fill="#6a0418" stroke="rgba(0,0,0,0.35)" stroke-width="0.7"/>
<rect x="61.70" y="287.41" width="11.65" height="11.72" fill="#2e1214" stroke="rgba(0,0,0,0.35)" stroke-width="0.7"/>
<rect x="73.30" y="287.41" width="11.65" height="11.72" fill="#2e1214" stroke="rgba(0,0,0,0.35)" stroke-width="0.7"/>
<rect x="84.90" y="287.41" width="11.65" height="11.72" fill="#2e1214" stroke="rgba(0,0,0,0.35)" stroke-width="0.7"/>
<rect x="112.40" y="287.41" width="11.65" height="11.72" fill="#960622" stroke="rgba(0,0,0,0.35)" stroke-width="0.7"/>
<rect x="124.00" y="287.41" width="11.65" height="11.72" fill="#26429e" stroke="rgba(0,0,0,0.35)" stroke-width="0.7"/>
<rect x="135.60" y="287.41" width="11.65" height="11.72" fill="#6a0418" stroke="rgba(0,0,0,0.35)" stroke-width="0.7"/>
<text class="g" x="149" y="296.94">BDLF3</text>
<text class="f" transform="translate(208.3,296.94) scale(0.9,1)">?</text>
<rect x="12.60" y="299.08" width="11.65" height="11.72" fill="#960622" stroke="rgba(0,0,0,0.35)" stroke-width="0.7"/>
<rect x="24.20" y="299.08" width="11.65" height="11.72" fill="#6a0418" stroke="rgba(0,0,0,0.35)" stroke-width="0.7"/>
<rect x="35.80" y="299.08" width="11.65" height="11.72" fill="#960622" stroke="rgba(0,0,0,0.35)" stroke-width="0.7"/>
<rect x="61.70" y="299.08" width="11.65" height="11.72" fill="#6a0418" stroke="rgba(0,0,0,0.35)" stroke-width="0.7"/>
<rect x="73.30" y="299.08" width="11.65" height="11.72" fill="#2e1214" stroke="rgba(0,0,0,0.35)" stroke-width="0.7"/>
<rect x="84.90" y="299.08" width="11.65" height="11.72" fill="#111d52" stroke="rgba(0,0,0,0.35)" stroke-width="0.7"/>
<rect x="112.40" y="299.08" width="11.65" height="11.72" fill="#be0628" stroke="rgba(0,0,0,0.35)" stroke-width="0.7"/>
<rect x="124.00" y="299.08" width="11.65" height="11.72" fill="#26429e" stroke="rgba(0,0,0,0.35)" stroke-width="0.7"/>
<rect x="135.60" y="299.08" width="11.65" height="11.72" fill="#6a0418" stroke="rgba(0,0,0,0.35)" stroke-width="0.7"/>
<text class="g" x="149" y="308.61">BDLF2</text>
<text class="f" transform="translate(208.3,308.61) scale(0.9,1)">?</text>
<rect x="12.60" y="310.75" width="11.65" height="11.72" fill="#2e1214" stroke="rgba(0,0,0,0.35)" stroke-width="0.7"/>
<rect x="24.20" y="310.75" width="11.65" height="11.72" fill="#120f10" stroke="rgba(0,0,0,0.35)" stroke-width="0.7"/>
<rect x="35.80" y="310.75" width="11.65" height="11.72" fill="#2e1214" stroke="rgba(0,0,0,0.35)" stroke-width="0.7"/>
<rect x="61.70" y="310.75" width="11.65" height="11.72" fill="#120f10" stroke="rgba(0,0,0,0.35)" stroke-width="0.7"/>
<rect x="73.30" y="310.75" width="11.65" height="11.72" fill="#2e1214" stroke="rgba(0,0,0,0.35)" stroke-width="0.7"/>
<rect x="84.90" y="310.75" width="11.65" height="11.72" fill="#111d52" stroke="rgba(0,0,0,0.35)" stroke-width="0.7"/>
<rect x="112.40" y="310.75" width="11.65" height="11.72" fill="#e6062c" stroke="rgba(0,0,0,0.35)" stroke-width="0.7"/>
<rect x="124.00" y="310.75" width="11.65" height="11.72" fill="#26429e" stroke="rgba(0,0,0,0.35)" stroke-width="0.7"/>
<rect x="135.60" y="310.75" width="11.65" height="11.72" fill="#2e1214" stroke="rgba(0,0,0,0.35)" stroke-width="0.7"/>
<text class="g" x="149" y="320.28">BDLF1</text>
<text class="f" transform="translate(208.3,320.28) scale(0.9,1)">cap</text>
<rect x="12.60" y="322.42" width="11.65" height="11.72" fill="#0f1330" stroke="rgba(0,0,0,0.35)" stroke-width="0.7"/>
<rect x="24.20" y="322.42" width="11.65" height="11.72" fill="#be0628" stroke="rgba(0,0,0,0.35)" stroke-width="0.7"/>
<rect x="35.80" y="322.42" width="11.65" height="11.72" fill="#e6062c" stroke="rgba(0,0,0,0.35)" stroke-width="0.7"/>
<rect x="61.70" y="322.42" width="11.65" height="11.72" fill="#be0628" stroke="rgba(0,0,0,0.35)" stroke-width="0.7"/>
<rect x="73.30" y="322.42" width="11.65" height="11.72" fill="#6a0418" stroke="rgba(0,0,0,0.35)" stroke-width="0.7"/>
<rect x="84.90" y="322.42" width="11.65" height="11.72" fill="#6a0418" stroke="rgba(0,0,0,0.35)" stroke-width="0.7"/>
<rect x="112.40" y="322.42" width="11.65" height="11.72" fill="#26429e" stroke="rgba(0,0,0,0.35)" stroke-width="0.7"/>
<rect x="124.00" y="322.42" width="11.65" height="11.72" fill="#111d52" stroke="rgba(0,0,0,0.35)" stroke-width="0.7"/>
<rect x="135.60" y="322.42" width="11.65" height="11.72" fill="#2e1214" stroke="rgba(0,0,0,0.35)" stroke-width="0.7"/>
<text class="g" x="149" y="331.95">BCRF1</text>
<text class="f" transform="translate(208.3,331.95) scale(0.9,1)">?</text>
<rect x="12.60" y="334.09" width="11.65" height="11.72" fill="#960622" stroke="rgba(0,0,0,0.35)" stroke-width="0.7"/>
<rect x="24.20" y="334.09" width="11.65" height="11.72" fill="#960622" stroke="rgba(0,0,0,0.35)" stroke-width="0.7"/>
<rect x="35.80" y="334.09" width="11.65" height="11.72" fill="#960622" stroke="rgba(0,0,0,0.35)" stroke-width="0.7"/>
<rect x="61.70" y="334.09" width="11.65" height="11.72" fill="#6a0418" stroke="rgba(0,0,0,0.35)" stroke-width="0.7"/>
<rect x="73.30" y="334.09" width="11.65" height="11.72" fill="#2e1214" stroke="rgba(0,0,0,0.35)" stroke-width="0.7"/>
<rect x="84.90" y="334.09" width="11.65" height="11.72" fill="#2e1214" stroke="rgba(0,0,0,0.35)" stroke-width="0.7"/>
<rect x="112.40" y="334.09" width="11.65" height="11.72" fill="#0f1330" stroke="rgba(0,0,0,0.35)" stroke-width="0.7"/>
<rect x="124.00" y="334.09" width="11.65" height="11.72" fill="#26429e" stroke="rgba(0,0,0,0.35)" stroke-width="0.7"/>
<rect x="135.60" y="334.09" width="11.65" height="11.72" fill="#6a0418" stroke="rgba(0,0,0,0.35)" stroke-width="0.7"/>
<text class="g" x="149" y="343.62">BVRF1</text>
<text class="f" transform="translate(208.3,343.62) scale(0.9,1)">teg</text>
<rect x="12.60" y="345.76" width="11.65" height="11.72" fill="#6a0418" stroke="rgba(0,0,0,0.35)" stroke-width="0.7"/>
<rect x="24.20" y="345.76" width="11.65" height="11.72" fill="#6a0418" stroke="rgba(0,0,0,0.35)" stroke-width="0.7"/>
<rect x="35.80" y="345.76" width="11.65" height="11.72" fill="#6a0418" stroke="rgba(0,0,0,0.35)" stroke-width="0.7"/>
<rect x="61.70" y="345.76" width="11.65" height="11.72" fill="#2e1214" stroke="rgba(0,0,0,0.35)" stroke-width="0.7"/>
<rect x="73.30" y="345.76" width="11.65" height="11.72" fill="#2e1214" stroke="rgba(0,0,0,0.35)" stroke-width="0.7"/>
<rect x="84.90" y="345.76" width="11.65" height="11.72" fill="#120f10" stroke="rgba(0,0,0,0.35)" stroke-width="0.7"/>
<rect x="112.40" y="345.76" width="11.65" height="11.72" fill="#2e1214" stroke="rgba(0,0,0,0.35)" stroke-width="0.7"/>
<rect x="124.00" y="345.76" width="11.65" height="11.72" fill="#26429e" stroke="rgba(0,0,0,0.35)" stroke-width="0.7"/>
<rect x="135.60" y="345.76" width="11.65" height="11.72" fill="#be0628" stroke="rgba(0,0,0,0.35)" stroke-width="0.7"/>
<text class="g" x="149" y="355.29">BVRF2</text>
<text class="f" transform="translate(208.3,355.29) scale(0.9,1)">cap</text>
<rect x="12.60" y="357.43" width="11.65" height="11.72" fill="#2e1214" stroke="rgba(0,0,0,0.35)" stroke-width="0.7"/>
<rect x="24.20" y="357.43" width="11.65" height="11.72" fill="#2e1214" stroke="rgba(0,0,0,0.35)" stroke-width="0.7"/>
<rect x="35.80" y="357.43" width="11.65" height="11.72" fill="#2e1214" stroke="rgba(0,0,0,0.35)" stroke-width="0.7"/>
<rect x="61.70" y="357.43" width="11.65" height="11.72" fill="#2e1214" stroke="rgba(0,0,0,0.35)" stroke-width="0.7"/>
<rect x="73.30" y="357.43" width="11.65" height="11.72" fill="#120f10" stroke="rgba(0,0,0,0.35)" stroke-width="0.7"/>
<rect x="84.90" y="357.43" width="11.65" height="11.72" fill="#120f10" stroke="rgba(0,0,0,0.35)" stroke-width="0.7"/>
<rect x="112.40" y="357.43" width="11.65" height="11.72" fill="#2e1214" stroke="rgba(0,0,0,0.35)" stroke-width="0.7"/>
<rect x="124.00" y="357.43" width="11.65" height="11.72" fill="#26429e" stroke="rgba(0,0,0,0.35)" stroke-width="0.7"/>
<rect x="135.60" y="357.43" width="11.65" height="11.72" fill="#960622" stroke="rgba(0,0,0,0.35)" stroke-width="0.7"/>
<text class="g" x="149" y="366.96">BDRF1</text>
<text class="f" transform="translate(208.3,366.96) scale(0.9,1)">C-BVRF2</text>
<rect x="12.60" y="369.10" width="11.65" height="11.72" fill="#6a0418" stroke="rgba(0,0,0,0.35)" stroke-width="0.7"/>
<rect x="24.20" y="369.10" width="11.65" height="11.72" fill="#6a0418" stroke="rgba(0,0,0,0.35)" stroke-width="0.7"/>
<rect x="35.80" y="369.10" width="11.65" height="11.72" fill="#6a0418" stroke="rgba(0,0,0,0.35)" stroke-width="0.7"/>
<rect x="61.70" y="369.10" width="11.65" height="11.72" fill="#120f10" stroke="rgba(0,0,0,0.35)" stroke-width="0.7"/>
<rect x="73.30" y="369.10" width="11.65" height="11.72" fill="#2e1214" stroke="rgba(0,0,0,0.35)" stroke-width="0.7"/>
<rect x="84.90" y="369.10" width="11.65" height="11.72" fill="#120f10" stroke="rgba(0,0,0,0.35)" stroke-width="0.7"/>
<rect x="112.40" y="369.10" width="11.65" height="11.72" fill="#0f1330" stroke="rgba(0,0,0,0.35)" stroke-width="0.7"/>
<rect x="124.00" y="369.10" width="11.65" height="11.72" fill="#26429e" stroke="rgba(0,0,0,0.35)" stroke-width="0.7"/>
<rect x="135.60" y="369.10" width="11.65" height="11.72" fill="#120f10" stroke="rgba(0,0,0,0.35)" stroke-width="0.7"/>
<text class="g" x="149" y="378.63">BILF1</text>
<text class="f" transform="translate(208.3,378.63) scale(0.9,1)">vGPCR</text>
<rect x="12.60" y="380.77" width="11.65" height="11.72" fill="#2e1214" stroke="rgba(0,0,0,0.35)" stroke-width="0.7"/>
<rect x="24.20" y="380.77" width="11.65" height="11.72" fill="#2e1214" stroke="rgba(0,0,0,0.35)" stroke-width="0.7"/>
<rect x="35.80" y="380.77" width="11.65" height="11.72" fill="#2e1214" stroke="rgba(0,0,0,0.35)" stroke-width="0.7"/>
<rect x="61.70" y="380.77" width="11.65" height="11.72" fill="#120f10" stroke="rgba(0,0,0,0.35)" stroke-width="0.7"/>
<rect x="73.30" y="380.77" width="11.65" height="11.72" fill="#2e1214" stroke="rgba(0,0,0,0.35)" stroke-width="0.7"/>
<rect x="84.90" y="380.77" width="11.65" height="11.72" fill="#120f10" stroke="rgba(0,0,0,0.35)" stroke-width="0.7"/>
<rect x="112.40" y="380.77" width="11.65" height="11.72" fill="#e6062c" stroke="rgba(0,0,0,0.35)" stroke-width="0.7"/>
<rect x="124.00" y="380.77" width="11.65" height="11.72" fill="#26429e" stroke="rgba(0,0,0,0.35)" stroke-width="0.7"/>
<rect x="135.60" y="380.77" width="11.65" height="11.72" fill="#0f1330" stroke="rgba(0,0,0,0.35)" stroke-width="0.7"/>
<text class="g" x="149" y="390.30">BALF5</text>
<text class="f" transform="translate(208.3,390.30) scale(0.9,1)">DNApol</text>
<rect x="12.60" y="392.44" width="11.65" height="11.72" fill="#13287e" stroke="rgba(0,0,0,0.35)" stroke-width="0.7"/>
<rect x="24.20" y="392.44" width="11.65" height="11.72" fill="#6a0418" stroke="rgba(0,0,0,0.35)" stroke-width="0.7"/>
<rect x="35.80" y="392.44" width="11.65" height="11.72" fill="#6a0418" stroke="rgba(0,0,0,0.35)" stroke-width="0.7"/>
<rect x="61.70" y="392.44" width="11.65" height="11.72" fill="#111d52" stroke="rgba(0,0,0,0.35)" stroke-width="0.7"/>
<rect x="73.30" y="392.44" width="11.65" height="11.72" fill="#be0628" stroke="rgba(0,0,0,0.35)" stroke-width="0.7"/>
<rect x="84.90" y="392.44" width="11.65" height="11.72" fill="#2e1214" stroke="rgba(0,0,0,0.35)" stroke-width="0.7"/>
<rect x="112.40" y="392.44" width="11.65" height="11.72" fill="#e6062c" stroke="rgba(0,0,0,0.35)" stroke-width="0.7"/>
<rect x="124.00" y="392.44" width="11.65" height="11.72" fill="#26429e" stroke="rgba(0,0,0,0.35)" stroke-width="0.7"/>
<rect x="135.60" y="392.44" width="11.65" height="11.72" fill="#0f1330" stroke="rgba(0,0,0,0.35)" stroke-width="0.7"/>
<text class="g" x="149" y="401.97">BALF4</text>
<text class="f" transform="translate(208.3,401.97) scale(0.9,1)">gB</text>
<rect x="12.60" y="404.11" width="11.65" height="11.72" fill="#be0628" stroke="rgba(0,0,0,0.35)" stroke-width="0.7"/>
<rect x="24.20" y="404.11" width="11.65" height="11.72" fill="#e6062c" stroke="rgba(0,0,0,0.35)" stroke-width="0.7"/>
<rect x="35.80" y="404.11" width="11.65" height="11.72" fill="#be0628" stroke="rgba(0,0,0,0.35)" stroke-width="0.7"/>
<rect x="61.70" y="404.11" width="11.65" height="11.72" fill="#960622" stroke="rgba(0,0,0,0.35)" stroke-width="0.7"/>
<rect x="73.30" y="404.11" width="11.65" height="11.72" fill="#960622" stroke="rgba(0,0,0,0.35)" stroke-width="0.7"/>
<rect x="84.90" y="404.11" width="11.65" height="11.72" fill="#be0628" stroke="rgba(0,0,0,0.35)" stroke-width="0.7"/>
<rect x="112.40" y="404.11" width="11.65" height="11.72" fill="#e6062c" stroke="rgba(0,0,0,0.35)" stroke-width="0.7"/>
<rect x="124.00" y="404.11" width="11.65" height="11.72" fill="#26429e" stroke="rgba(0,0,0,0.35)" stroke-width="0.7"/>
<rect x="135.60" y="404.11" width="11.65" height="11.72" fill="#960622" stroke="rgba(0,0,0,0.35)" stroke-width="0.7"/>
<text class="g" x="149" y="413.64">LMP-2A_Dup1</text>
<text class="f" transform="translate(208.3,413.64) scale(0.9,1)">membr</text>
<rect x="12.60" y="415.78" width="11.65" height="11.72" fill="#120f10" stroke="rgba(0,0,0,0.35)" stroke-width="0.7"/>
<rect x="24.20" y="415.78" width="11.65" height="11.72" fill="#120f10" stroke="rgba(0,0,0,0.35)" stroke-width="0.7"/>
<rect x="35.80" y="415.78" width="11.65" height="11.72" fill="#be0628" stroke="rgba(0,0,0,0.35)" stroke-width="0.7"/>
<rect x="61.70" y="415.78" width="11.65" height="11.72" fill="#120f10" stroke="rgba(0,0,0,0.35)" stroke-width="0.7"/>
<rect x="73.30" y="415.78" width="11.65" height="11.72" fill="#0f1330" stroke="rgba(0,0,0,0.35)" stroke-width="0.7"/>
<rect x="84.90" y="415.78" width="11.65" height="11.72" fill="#0f1330" stroke="rgba(0,0,0,0.35)" stroke-width="0.7"/>
<rect x="112.40" y="415.78" width="11.65" height="11.72" fill="#6a0418" stroke="rgba(0,0,0,0.35)" stroke-width="0.7"/>
<rect x="124.00" y="415.78" width="11.65" height="11.72" fill="#26429e" stroke="rgba(0,0,0,0.35)" stroke-width="0.7"/>
<rect x="135.60" y="415.78" width="11.65" height="11.72" fill="#2e1214" stroke="rgba(0,0,0,0.35)" stroke-width="0.7"/>
<text class="g" x="149" y="425.31">LMP-2A</text>
<text class="f" transform="translate(208.3,425.31) scale(0.9,1)">membr</text>
<rect x="12.60" y="427.45" width="11.65" height="11.72" fill="#6a0418" stroke="rgba(0,0,0,0.35)" stroke-width="0.7"/>
<rect x="24.20" y="427.45" width="11.65" height="11.72" fill="#2e1214" stroke="rgba(0,0,0,0.35)" stroke-width="0.7"/>
<rect x="35.80" y="427.45" width="11.65" height="11.72" fill="#960622" stroke="rgba(0,0,0,0.35)" stroke-width="0.7"/>
<rect x="61.70" y="427.45" width="11.65" height="11.72" fill="#120f10" stroke="rgba(0,0,0,0.35)" stroke-width="0.7"/>
<rect x="73.30" y="427.45" width="11.65" height="11.72" fill="#2e1214" stroke="rgba(0,0,0,0.35)" stroke-width="0.7"/>
<rect x="84.90" y="427.45" width="11.65" height="11.72" fill="#120f10" stroke="rgba(0,0,0,0.35)" stroke-width="0.7"/>
<rect x="112.40" y="427.45" width="11.65" height="11.72" fill="#26429e" stroke="rgba(0,0,0,0.35)" stroke-width="0.7"/>
<rect x="124.00" y="427.45" width="11.65" height="11.72" fill="#26429e" stroke="rgba(0,0,0,0.35)" stroke-width="0.7"/>
<rect x="135.60" y="427.45" width="11.65" height="11.72" fill="#2e1214" stroke="rgba(0,0,0,0.35)" stroke-width="0.7"/>
<text class="g" x="149" y="436.98">BHRF1</text>
<text class="f" transform="translate(208.3,436.98) scale(0.9,1)">vBCL-2</text>
<rect x="12.60" y="439.12" width="11.65" height="11.72" fill="#2e1214" stroke="rgba(0,0,0,0.35)" stroke-width="0.7"/>
<rect x="24.20" y="439.12" width="11.65" height="11.72" fill="#120f10" stroke="rgba(0,0,0,0.35)" stroke-width="0.7"/>
<rect x="35.80" y="439.12" width="11.65" height="11.72" fill="#960622" stroke="rgba(0,0,0,0.35)" stroke-width="0.7"/>
<rect x="61.70" y="439.12" width="11.65" height="11.72" fill="#0f1330" stroke="rgba(0,0,0,0.35)" stroke-width="0.7"/>
<rect x="73.30" y="439.12" width="11.65" height="11.72" fill="#120f10" stroke="rgba(0,0,0,0.35)" stroke-width="0.7"/>
<rect x="84.90" y="439.12" width="11.65" height="11.72" fill="#111d52" stroke="rgba(0,0,0,0.35)" stroke-width="0.7"/>
<rect x="112.40" y="439.12" width="11.65" height="11.72" fill="#e6062c" stroke="rgba(0,0,0,0.35)" stroke-width="0.7"/>
<rect x="124.00" y="439.12" width="11.65" height="11.72" fill="#e6062c" stroke="rgba(0,0,0,0.35)" stroke-width="0.7"/>
<rect x="135.60" y="439.12" width="11.65" height="11.72" fill="#6a0418" stroke="rgba(0,0,0,0.35)" stroke-width="0.7"/>
<text class="g" x="149" y="448.65">BSRF1</text>
<text class="f" transform="translate(208.3,448.65) scale(0.9,1)">?</text>
<rect x="12.60" y="450.79" width="11.65" height="11.72" fill="#6a0418" stroke="rgba(0,0,0,0.35)" stroke-width="0.7"/>
<rect x="24.20" y="450.79" width="11.65" height="11.72" fill="#120f10" stroke="rgba(0,0,0,0.35)" stroke-width="0.7"/>
<rect x="35.80" y="450.79" width="11.65" height="11.72" fill="#960622" stroke="rgba(0,0,0,0.35)" stroke-width="0.7"/>
<rect x="61.70" y="450.79" width="11.65" height="11.72" fill="#120f10" stroke="rgba(0,0,0,0.35)" stroke-width="0.7"/>
<rect x="73.30" y="450.79" width="11.65" height="11.72" fill="#111d52" stroke="rgba(0,0,0,0.35)" stroke-width="0.7"/>
<rect x="84.90" y="450.79" width="11.65" height="11.72" fill="#13287e" stroke="rgba(0,0,0,0.35)" stroke-width="0.7"/>
<rect x="112.40" y="450.79" width="11.65" height="11.72" fill="#e6062c" stroke="rgba(0,0,0,0.35)" stroke-width="0.7"/>
<rect x="124.00" y="450.79" width="11.65" height="11.72" fill="#120f10" stroke="rgba(0,0,0,0.35)" stroke-width="0.7"/>
<rect x="135.60" y="450.79" width="11.65" height="11.72" fill="#960622" stroke="rgba(0,0,0,0.35)" stroke-width="0.7"/>
<text class="g" x="149" y="460.32">BNRF1</text>
<text class="f" transform="translate(208.3,460.32) scale(0.9,1)">teg</text>
<rect x="12.60" y="462.46" width="11.65" height="11.72" fill="#0f1330" stroke="rgba(0,0,0,0.35)" stroke-width="0.7"/>
<rect x="24.20" y="462.46" width="11.65" height="11.72" fill="#2e1214" stroke="rgba(0,0,0,0.35)" stroke-width="0.7"/>
<rect x="35.80" y="462.46" width="11.65" height="11.72" fill="#be0628" stroke="rgba(0,0,0,0.35)" stroke-width="0.7"/>
<rect x="61.70" y="462.46" width="11.65" height="11.72" fill="#120f10" stroke="rgba(0,0,0,0.35)" stroke-width="0.7"/>
<rect x="73.30" y="462.46" width="11.65" height="11.72" fill="#13287e" stroke="rgba(0,0,0,0.35)" stroke-width="0.7"/>
<rect x="84.90" y="462.46" width="11.65" height="11.72" fill="#120f10" stroke="rgba(0,0,0,0.35)" stroke-width="0.7"/>
<rect x="112.40" y="462.46" width="11.65" height="11.72" fill="#be0628" stroke="rgba(0,0,0,0.35)" stroke-width="0.7"/>
<rect x="124.00" y="462.46" width="11.65" height="11.72" fill="#e6062c" stroke="rgba(0,0,0,0.35)" stroke-width="0.7"/>
<rect x="135.60" y="462.46" width="11.65" height="11.72" fill="#0f1330" stroke="rgba(0,0,0,0.35)" stroke-width="0.7"/>
<text class="g" x="149" y="471.99">exon</text>
<text class="f" transform="translate(208.3,471.99) scale(0.9,1)">ebna</text>
<rect x="12.60" y="474.13" width="11.65" height="11.72" fill="#e6062c" stroke="rgba(0,0,0,0.35)" stroke-width="0.7"/>
<rect x="24.20" y="474.13" width="11.65" height="11.72" fill="#be0628" stroke="rgba(0,0,0,0.35)" stroke-width="0.7"/>
<rect x="35.80" y="474.13" width="11.65" height="11.72" fill="#e6062c" stroke="rgba(0,0,0,0.35)" stroke-width="0.7"/>
<rect x="61.70" y="474.13" width="11.65" height="11.72" fill="#960622" stroke="rgba(0,0,0,0.35)" stroke-width="0.7"/>
<rect x="73.30" y="474.13" width="11.65" height="11.72" fill="#be0628" stroke="rgba(0,0,0,0.35)" stroke-width="0.7"/>
<rect x="84.90" y="474.13" width="11.65" height="11.72" fill="#120f10" stroke="rgba(0,0,0,0.35)" stroke-width="0.7"/>
<rect x="112.40" y="474.13" width="11.65" height="11.72" fill="#e6062c" stroke="rgba(0,0,0,0.35)" stroke-width="0.7"/>
<rect x="124.00" y="474.13" width="11.65" height="11.72" fill="#960622" stroke="rgba(0,0,0,0.35)" stroke-width="0.7"/>
<rect x="135.60" y="474.13" width="11.65" height="11.72" fill="#2e1214" stroke="rgba(0,0,0,0.35)" stroke-width="0.7"/>
<text class="g" x="149" y="483.66">BFLF1</text>
<text class="f" transform="translate(208.3,483.66) scale(0.9,1)">gB</text>
<rect x="12.60" y="485.80" width="11.65" height="11.72" fill="#120f10" stroke="rgba(0,0,0,0.35)" stroke-width="0.7"/>
<rect x="24.20" y="485.80" width="11.65" height="11.72" fill="#120f10" stroke="rgba(0,0,0,0.35)" stroke-width="0.7"/>
<rect x="35.80" y="485.80" width="11.65" height="11.72" fill="#2e1214" stroke="rgba(0,0,0,0.35)" stroke-width="0.7"/>
<rect x="61.70" y="485.80" width="11.65" height="11.72" fill="#120f10" stroke="rgba(0,0,0,0.35)" stroke-width="0.7"/>
<rect x="73.30" y="485.80" width="11.65" height="11.72" fill="#120f10" stroke="rgba(0,0,0,0.35)" stroke-width="0.7"/>
<rect x="84.90" y="485.80" width="11.65" height="11.72" fill="#120f10" stroke="rgba(0,0,0,0.35)" stroke-width="0.7"/>
<rect x="112.40" y="485.80" width="11.65" height="11.72" fill="#e6062c" stroke="rgba(0,0,0,0.35)" stroke-width="0.7"/>
<rect x="124.00" y="485.80" width="11.65" height="11.72" fill="#e6062c" stroke="rgba(0,0,0,0.35)" stroke-width="0.7"/>
<rect x="135.60" y="485.80" width="11.65" height="11.72" fill="#2e1214" stroke="rgba(0,0,0,0.35)" stroke-width="0.7"/>
<text class="g" x="149" y="495.33">BFRF2</text>
<text class="f" transform="translate(208.3,495.33) scale(0.9,1)">teg</text>
<rect x="12.60" y="497.47" width="11.65" height="11.72" fill="#960622" stroke="rgba(0,0,0,0.35)" stroke-width="0.7"/>
<rect x="24.20" y="497.47" width="11.65" height="11.72" fill="#6a0418" stroke="rgba(0,0,0,0.35)" stroke-width="0.7"/>
<rect x="35.80" y="497.47" width="11.65" height="11.72" fill="#be0628" stroke="rgba(0,0,0,0.35)" stroke-width="0.7"/>
<rect x="61.70" y="497.47" width="11.65" height="11.72" fill="#2e1214" stroke="rgba(0,0,0,0.35)" stroke-width="0.7"/>
<rect x="73.30" y="497.47" width="11.65" height="11.72" fill="#960622" stroke="rgba(0,0,0,0.35)" stroke-width="0.7"/>
<rect x="84.90" y="497.47" width="11.65" height="11.72" fill="#111d52" stroke="rgba(0,0,0,0.35)" stroke-width="0.7"/>
<rect x="112.40" y="497.47" width="11.65" height="11.72" fill="#e6062c" stroke="rgba(0,0,0,0.35)" stroke-width="0.7"/>
<rect x="124.00" y="497.47" width="11.65" height="11.72" fill="#be0628" stroke="rgba(0,0,0,0.35)" stroke-width="0.7"/>
<rect x="135.60" y="497.47" width="11.65" height="11.72" fill="#960622" stroke="rgba(0,0,0,0.35)" stroke-width="0.7"/>
<text class="g" x="149" y="507.00">BFRF3</text>
<text class="f" transform="translate(208.3,507.00) scale(0.9,1)">teg</text>
<rect x="12.60" y="509.14" width="11.65" height="11.72" fill="#2e1214" stroke="rgba(0,0,0,0.35)" stroke-width="0.7"/>
<rect x="24.20" y="509.14" width="11.65" height="11.72" fill="#2e1214" stroke="rgba(0,0,0,0.35)" stroke-width="0.7"/>
<rect x="35.80" y="509.14" width="11.65" height="11.72" fill="#2e1214" stroke="rgba(0,0,0,0.35)" stroke-width="0.7"/>
<rect x="61.70" y="509.14" width="11.65" height="11.72" fill="#120f10" stroke="rgba(0,0,0,0.35)" stroke-width="0.7"/>
<rect x="73.30" y="509.14" width="11.65" height="11.72" fill="#120f10" stroke="rgba(0,0,0,0.35)" stroke-width="0.7"/>
<rect x="84.90" y="509.14" width="11.65" height="11.72" fill="#120f10" stroke="rgba(0,0,0,0.35)" stroke-width="0.7"/>
<rect x="112.40" y="509.14" width="11.65" height="11.72" fill="#e6062c" stroke="rgba(0,0,0,0.35)" stroke-width="0.7"/>
<rect x="124.00" y="509.14" width="11.65" height="11.72" fill="#e6062c" stroke="rgba(0,0,0,0.35)" stroke-width="0.7"/>
<rect x="135.60" y="509.14" width="11.65" height="11.72" fill="#be0628" stroke="rgba(0,0,0,0.35)" stroke-width="0.7"/>
<text class="g" x="149" y="518.68">BPLF1</text>
<text class="f" transform="translate(208.3,518.68) scale(0.9,1)">teg</text>
<rect x="12.60" y="520.81" width="11.65" height="11.72" fill="#0f1330" stroke="rgba(0,0,0,0.35)" stroke-width="0.7"/>
<rect x="24.20" y="520.81" width="11.65" height="11.72" fill="#0f1330" stroke="rgba(0,0,0,0.35)" stroke-width="0.7"/>
<rect x="35.80" y="520.81" width="11.65" height="11.72" fill="#be0628" stroke="rgba(0,0,0,0.35)" stroke-width="0.7"/>
<rect x="61.70" y="520.81" width="11.65" height="11.72" fill="#0f1330" stroke="rgba(0,0,0,0.35)" stroke-width="0.7"/>
<rect x="73.30" y="520.81" width="11.65" height="11.72" fill="#120f10" stroke="rgba(0,0,0,0.35)" stroke-width="0.7"/>
<rect x="84.90" y="520.81" width="11.65" height="11.72" fill="#120f10" stroke="rgba(0,0,0,0.35)" stroke-width="0.7"/>
<rect x="112.40" y="520.81" width="11.65" height="11.72" fill="#e6062c" stroke="rgba(0,0,0,0.35)" stroke-width="0.7"/>
<rect x="124.00" y="520.81" width="11.65" height="11.72" fill="#be0628" stroke="rgba(0,0,0,0.35)" stroke-width="0.7"/>
<rect x="135.60" y="520.81" width="11.65" height="11.72" fill="#26429e" stroke="rgba(0,0,0,0.35)" stroke-width="0.7"/>
<text class="g" x="149" y="530.35">BOLF1</text>
<text class="f" transform="translate(208.3,530.35) scale(0.9,1)">teg</text>
<rect x="12.60" y="532.48" width="11.65" height="11.72" fill="#be0628" stroke="rgba(0,0,0,0.35)" stroke-width="0.7"/>
<rect x="24.20" y="532.48" width="11.65" height="11.72" fill="#be0628" stroke="rgba(0,0,0,0.35)" stroke-width="0.7"/>
<rect x="35.80" y="532.48" width="11.65" height="11.72" fill="#be0628" stroke="rgba(0,0,0,0.35)" stroke-width="0.7"/>
<rect x="61.70" y="532.48" width="11.65" height="11.72" fill="#2e1214" stroke="rgba(0,0,0,0.35)" stroke-width="0.7"/>
<rect x="73.30" y="532.48" width="11.65" height="11.72" fill="#be0628" stroke="rgba(0,0,0,0.35)" stroke-width="0.7"/>
<rect x="84.90" y="532.48" width="11.65" height="11.72" fill="#2e1214" stroke="rgba(0,0,0,0.35)" stroke-width="0.7"/>
<rect x="112.40" y="532.48" width="11.65" height="11.72" fill="#111d52" stroke="rgba(0,0,0,0.35)" stroke-width="0.7"/>
<rect x="124.00" y="532.48" width="11.65" height="11.72" fill="#e6062c" stroke="rgba(0,0,0,0.35)" stroke-width="0.7"/>
<rect x="135.60" y="532.48" width="11.65" height="11.72" fill="#e6062c" stroke="rgba(0,0,0,0.35)" stroke-width="0.7"/>
<text class="g" x="149" y="542.02">BSLF2</text>
<text class="f" transform="translate(208.3,542.02) scale(0.9,1)">spl_mta</text>
<rect x="12.60" y="544.15" width="11.65" height="11.72" fill="#6a0418" stroke="rgba(0,0,0,0.35)" stroke-width="0.7"/>
<rect x="24.20" y="544.15" width="11.65" height="11.72" fill="#960622" stroke="rgba(0,0,0,0.35)" stroke-width="0.7"/>
<rect x="35.80" y="544.15" width="11.65" height="11.72" fill="#be0628" stroke="rgba(0,0,0,0.35)" stroke-width="0.7"/>
<rect x="61.70" y="544.15" width="11.65" height="11.72" fill="#120f10" stroke="rgba(0,0,0,0.35)" stroke-width="0.7"/>
<rect x="73.30" y="544.15" width="11.65" height="11.72" fill="#6a0418" stroke="rgba(0,0,0,0.35)" stroke-width="0.7"/>
<rect x="84.90" y="544.15" width="11.65" height="11.72" fill="#120f10" stroke="rgba(0,0,0,0.35)" stroke-width="0.7"/>
<rect x="112.40" y="544.15" width="11.65" height="11.72" fill="#be0628" stroke="rgba(0,0,0,0.35)" stroke-width="0.7"/>
<rect x="124.00" y="544.15" width="11.65" height="11.72" fill="#be0628" stroke="rgba(0,0,0,0.35)" stroke-width="0.7"/>
<rect x="135.60" y="544.15" width="11.65" height="11.72" fill="#e6062c" stroke="rgba(0,0,0,0.35)" stroke-width="0.7"/>
<text class="g" x="149" y="553.69">BSLF1</text>
<text class="f" transform="translate(208.3,553.69) scale(0.9,1)">hel</text>
<rect x="12.60" y="555.82" width="11.65" height="11.72" fill="#be0628" stroke="rgba(0,0,0,0.35)" stroke-width="0.7"/>
<rect x="24.20" y="555.82" width="11.65" height="11.72" fill="#be0628" stroke="rgba(0,0,0,0.35)" stroke-width="0.7"/>
<rect x="35.80" y="555.82" width="11.65" height="11.72" fill="#be0628" stroke="rgba(0,0,0,0.35)" stroke-width="0.7"/>
<rect x="61.70" y="555.82" width="11.65" height="11.72" fill="#960622" stroke="rgba(0,0,0,0.35)" stroke-width="0.7"/>
<rect x="73.30" y="555.82" width="11.65" height="11.72" fill="#be0628" stroke="rgba(0,0,0,0.35)" stroke-width="0.7"/>
<rect x="84.90" y="555.82" width="11.65" height="11.72" fill="#120f10" stroke="rgba(0,0,0,0.35)" stroke-width="0.7"/>
<rect x="112.40" y="555.82" width="11.65" height="11.72" fill="#e6062c" stroke="rgba(0,0,0,0.35)" stroke-width="0.7"/>
<rect x="124.00" y="555.82" width="11.65" height="11.72" fill="#960622" stroke="rgba(0,0,0,0.35)" stroke-width="0.7"/>
<rect x="135.60" y="555.82" width="11.65" height="11.72" fill="#6a0418" stroke="rgba(0,0,0,0.35)" stroke-width="0.7"/>
<text class="g" x="149" y="565.36">BLLF3</text>
<text class="f" transform="translate(208.3,565.36) scale(0.9,1)">dUTPase</text>
<rect x="12.60" y="567.49" width="11.65" height="11.72" fill="#960622" stroke="rgba(0,0,0,0.35)" stroke-width="0.7"/>
<rect x="24.20" y="567.49" width="11.65" height="11.72" fill="#0f1330" stroke="rgba(0,0,0,0.35)" stroke-width="0.7"/>
<rect x="35.80" y="567.49" width="11.65" height="11.72" fill="#be0628" stroke="rgba(0,0,0,0.35)" stroke-width="0.7"/>
<rect x="61.70" y="567.49" width="11.65" height="11.72" fill="#960622" stroke="rgba(0,0,0,0.35)" stroke-width="0.7"/>
<rect x="73.30" y="567.49" width="11.65" height="11.72" fill="#120f10" stroke="rgba(0,0,0,0.35)" stroke-width="0.7"/>
<rect x="84.90" y="567.49" width="11.65" height="11.72" fill="#0f1330" stroke="rgba(0,0,0,0.35)" stroke-width="0.7"/>
<rect x="112.40" y="567.49" width="11.65" height="11.72" fill="#e6062c" stroke="rgba(0,0,0,0.35)" stroke-width="0.7"/>
<rect x="124.00" y="567.49" width="11.65" height="11.72" fill="#e6062c" stroke="rgba(0,0,0,0.35)" stroke-width="0.7"/>
<rect x="135.60" y="567.49" width="11.65" height="11.72" fill="#be0628" stroke="rgba(0,0,0,0.35)" stroke-width="0.7"/>
<text class="g" x="149" y="577.03">BLRF1</text>
<text class="f" transform="translate(208.3,577.03) scale(0.9,1)">?</text>
<rect x="12.60" y="579.16" width="11.65" height="11.72" fill="#960622" stroke="rgba(0,0,0,0.35)" stroke-width="0.7"/>
<rect x="24.20" y="579.16" width="11.65" height="11.72" fill="#6a0418" stroke="rgba(0,0,0,0.35)" stroke-width="0.7"/>
<rect x="35.80" y="579.16" width="11.65" height="11.72" fill="#be0628" stroke="rgba(0,0,0,0.35)" stroke-width="0.7"/>
<rect x="61.70" y="579.16" width="11.65" height="11.72" fill="#6a0418" stroke="rgba(0,0,0,0.35)" stroke-width="0.7"/>
<rect x="73.30" y="579.16" width="11.65" height="11.72" fill="#120f10" stroke="rgba(0,0,0,0.35)" stroke-width="0.7"/>
<rect x="84.90" y="579.16" width="11.65" height="11.72" fill="#13287e" stroke="rgba(0,0,0,0.35)" stroke-width="0.7"/>
<rect x="112.40" y="579.16" width="11.65" height="11.72" fill="#e6062c" stroke="rgba(0,0,0,0.35)" stroke-width="0.7"/>
<rect x="124.00" y="579.16" width="11.65" height="11.72" fill="#e6062c" stroke="rgba(0,0,0,0.35)" stroke-width="0.7"/>
<rect x="135.60" y="579.16" width="11.65" height="11.72" fill="#960622" stroke="rgba(0,0,0,0.35)" stroke-width="0.7"/>
<text class="g" x="149" y="588.70">BLRF2</text>
<text class="f" transform="translate(208.3,588.70) scale(0.9,1)">?</text>
<rect x="12.60" y="590.83" width="11.65" height="11.72" fill="#be0628" stroke="rgba(0,0,0,0.35)" stroke-width="0.7"/>
<rect x="24.20" y="590.83" width="11.65" height="11.72" fill="#960622" stroke="rgba(0,0,0,0.35)" stroke-width="0.7"/>
<rect x="35.80" y="590.83" width="11.65" height="11.72" fill="#be0628" stroke="rgba(0,0,0,0.35)" stroke-width="0.7"/>
<rect x="61.70" y="590.83" width="11.65" height="11.72" fill="#6a0418" stroke="rgba(0,0,0,0.35)" stroke-width="0.7"/>
<rect x="73.30" y="590.83" width="11.65" height="11.72" fill="#960622" stroke="rgba(0,0,0,0.35)" stroke-width="0.7"/>
<rect x="84.90" y="590.83" width="11.65" height="11.72" fill="#6a0418" stroke="rgba(0,0,0,0.35)" stroke-width="0.7"/>
<rect x="112.40" y="590.83" width="11.65" height="11.72" fill="#e6062c" stroke="rgba(0,0,0,0.35)" stroke-width="0.7"/>
<rect x="124.00" y="590.83" width="11.65" height="11.72" fill="#111d52" stroke="rgba(0,0,0,0.35)" stroke-width="0.7"/>
<rect x="135.60" y="590.83" width="11.65" height="11.72" fill="#960622" stroke="rgba(0,0,0,0.35)" stroke-width="0.7"/>
<text class="g" x="149" y="600.37">BRLF1</text>
<text class="f" transform="translate(208.3,600.37) scale(0.9,1)">Rta</text>
<rect x="12.60" y="602.50" width="11.65" height="11.72" fill="#2e1214" stroke="rgba(0,0,0,0.35)" stroke-width="0.7"/>
<rect x="24.20" y="602.50" width="11.65" height="11.72" fill="#120f10" stroke="rgba(0,0,0,0.35)" stroke-width="0.7"/>
<rect x="35.80" y="602.50" width="11.65" height="11.72" fill="#2e1214" stroke="rgba(0,0,0,0.35)" stroke-width="0.7"/>
<rect x="61.70" y="602.50" width="11.65" height="11.72" fill="#120f10" stroke="rgba(0,0,0,0.35)" stroke-width="0.7"/>
<rect x="73.30" y="602.50" width="11.65" height="11.72" fill="#120f10" stroke="rgba(0,0,0,0.35)" stroke-width="0.7"/>
<rect x="84.90" y="602.50" width="11.65" height="11.72" fill="#120f10" stroke="rgba(0,0,0,0.35)" stroke-width="0.7"/>
<rect x="112.40" y="602.50" width="11.65" height="11.72" fill="#be0628" stroke="rgba(0,0,0,0.35)" stroke-width="0.7"/>
<rect x="124.00" y="602.50" width="11.65" height="11.72" fill="#e6062c" stroke="rgba(0,0,0,0.35)" stroke-width="0.7"/>
<rect x="135.60" y="602.50" width="11.65" height="11.72" fill="#be0628" stroke="rgba(0,0,0,0.35)" stroke-width="0.7"/>
<text class="g" x="149" y="612.04">BRRF2</text>
<rect x="12.60" y="614.17" width="11.65" height="11.72" fill="#be0628" stroke="rgba(0,0,0,0.35)" stroke-width="0.7"/>
<rect x="24.20" y="614.17" width="11.65" height="11.72" fill="#be0628" stroke="rgba(0,0,0,0.35)" stroke-width="0.7"/>
<rect x="35.80" y="614.17" width="11.65" height="11.72" fill="#be0628" stroke="rgba(0,0,0,0.35)" stroke-width="0.7"/>
<rect x="61.70" y="614.17" width="11.65" height="11.72" fill="#960622" stroke="rgba(0,0,0,0.35)" stroke-width="0.7"/>
<rect x="73.30" y="614.17" width="11.65" height="11.72" fill="#6a0418" stroke="rgba(0,0,0,0.35)" stroke-width="0.7"/>
<rect x="84.90" y="614.17" width="11.65" height="11.72" fill="#960622" stroke="rgba(0,0,0,0.35)" stroke-width="0.7"/>
<rect x="112.40" y="614.17" width="11.65" height="11.72" fill="#be0628" stroke="rgba(0,0,0,0.35)" stroke-width="0.7"/>
<rect x="124.00" y="614.17" width="11.65" height="11.72" fill="#be0628" stroke="rgba(0,0,0,0.35)" stroke-width="0.7"/>
<rect x="135.60" y="614.17" width="11.65" height="11.72" fill="#2e1214" stroke="rgba(0,0,0,0.35)" stroke-width="0.7"/>
<text class="g" x="149" y="623.71">BKRF1</text>
<text class="f" transform="translate(208.3,623.71) scale(0.9,1)">EBNA-1</text>
<rect x="12.60" y="625.84" width="11.65" height="11.72" fill="#be0628" stroke="rgba(0,0,0,0.35)" stroke-width="0.7"/>
<rect x="24.20" y="625.84" width="11.65" height="11.72" fill="#960622" stroke="rgba(0,0,0,0.35)" stroke-width="0.7"/>
<rect x="35.80" y="625.84" width="11.65" height="11.72" fill="#be0628" stroke="rgba(0,0,0,0.35)" stroke-width="0.7"/>
<rect x="61.70" y="625.84" width="11.65" height="11.72" fill="#960622" stroke="rgba(0,0,0,0.35)" stroke-width="0.7"/>
<rect x="73.30" y="625.84" width="11.65" height="11.72" fill="#2e1214" stroke="rgba(0,0,0,0.35)" stroke-width="0.7"/>
<rect x="84.90" y="625.84" width="11.65" height="11.72" fill="#111d52" stroke="rgba(0,0,0,0.35)" stroke-width="0.7"/>
<rect x="112.40" y="625.84" width="11.65" height="11.72" fill="#111d52" stroke="rgba(0,0,0,0.35)" stroke-width="0.7"/>
<rect x="124.00" y="625.84" width="11.65" height="11.72" fill="#e6062c" stroke="rgba(0,0,0,0.35)" stroke-width="0.7"/>
<rect x="135.60" y="625.84" width="11.65" height="11.72" fill="#be0628" stroke="rgba(0,0,0,0.35)" stroke-width="0.7"/>
<text class="g" x="149" y="635.38">BKRF3</text>
<text class="f" transform="translate(208.3,635.38) scale(0.9,1)">UNG</text>
<rect x="12.60" y="637.51" width="11.65" height="11.72" fill="#6a0418" stroke="rgba(0,0,0,0.35)" stroke-width="0.7"/>
<rect x="24.20" y="637.51" width="11.65" height="11.72" fill="#be0628" stroke="rgba(0,0,0,0.35)" stroke-width="0.7"/>
<rect x="35.80" y="637.51" width="11.65" height="11.72" fill="#be0628" stroke="rgba(0,0,0,0.35)" stroke-width="0.7"/>
<rect x="61.70" y="637.51" width="11.65" height="11.72" fill="#6a0418" stroke="rgba(0,0,0,0.35)" stroke-width="0.7"/>
<rect x="73.30" y="637.51" width="11.65" height="11.72" fill="#6a0418" stroke="rgba(0,0,0,0.35)" stroke-width="0.7"/>
<rect x="84.90" y="637.51" width="11.65" height="11.72" fill="#120f10" stroke="rgba(0,0,0,0.35)" stroke-width="0.7"/>
<rect x="112.40" y="637.51" width="11.65" height="11.72" fill="#e6062c" stroke="rgba(0,0,0,0.35)" stroke-width="0.7"/>
<rect x="124.00" y="637.51" width="11.65" height="11.72" fill="#960622" stroke="rgba(0,0,0,0.35)" stroke-width="0.7"/>
<rect x="135.60" y="637.51" width="11.65" height="11.72" fill="#be0628" stroke="rgba(0,0,0,0.35)" stroke-width="0.7"/>
<text class="g" x="149" y="647.05">BKRF4</text>
<text class="f" transform="translate(208.3,647.05) scale(0.9,1)">?</text>
<rect x="12.60" y="649.18" width="11.65" height="11.72" fill="#be0628" stroke="rgba(0,0,0,0.35)" stroke-width="0.7"/>
<rect x="24.20" y="649.18" width="11.65" height="11.72" fill="#960622" stroke="rgba(0,0,0,0.35)" stroke-width="0.7"/>
<rect x="35.80" y="649.18" width="11.65" height="11.72" fill="#be0628" stroke="rgba(0,0,0,0.35)" stroke-width="0.7"/>
<rect x="61.70" y="649.18" width="11.65" height="11.72" fill="#6a0418" stroke="rgba(0,0,0,0.35)" stroke-width="0.7"/>
<rect x="73.30" y="649.18" width="11.65" height="11.72" fill="#960622" stroke="rgba(0,0,0,0.35)" stroke-width="0.7"/>
<rect x="84.90" y="649.18" width="11.65" height="11.72" fill="#2e1214" stroke="rgba(0,0,0,0.35)" stroke-width="0.7"/>
<rect x="112.40" y="649.18" width="11.65" height="11.72" fill="#111d52" stroke="rgba(0,0,0,0.35)" stroke-width="0.7"/>
<rect x="124.00" y="649.18" width="11.65" height="11.72" fill="#be0628" stroke="rgba(0,0,0,0.35)" stroke-width="0.7"/>
<rect x="135.60" y="649.18" width="11.65" height="11.72" fill="#6a0418" stroke="rgba(0,0,0,0.35)" stroke-width="0.7"/>
<text class="g" x="149" y="658.72">BGLF4</text>
<text class="f" transform="translate(208.3,658.72) scale(0.9,1)">kin</text>
<rect x="12.60" y="660.85" width="11.65" height="11.72" fill="#6a0418" stroke="rgba(0,0,0,0.35)" stroke-width="0.7"/>
<rect x="24.20" y="660.85" width="11.65" height="11.72" fill="#e6062c" stroke="rgba(0,0,0,0.35)" stroke-width="0.7"/>
<rect x="35.80" y="660.85" width="11.65" height="11.72" fill="#be0628" stroke="rgba(0,0,0,0.35)" stroke-width="0.7"/>
<rect x="61.70" y="660.85" width="11.65" height="11.72" fill="#be0628" stroke="rgba(0,0,0,0.35)" stroke-width="0.7"/>
<rect x="73.30" y="660.85" width="11.65" height="11.72" fill="#960622" stroke="rgba(0,0,0,0.35)" stroke-width="0.7"/>
<rect x="84.90" y="660.85" width="11.65" height="11.72" fill="#960622" stroke="rgba(0,0,0,0.35)" stroke-width="0.7"/>
<rect x="112.40" y="660.85" width="11.65" height="11.72" fill="#6a0418" stroke="rgba(0,0,0,0.35)" stroke-width="0.7"/>
<rect x="124.00" y="660.85" width="11.65" height="11.72" fill="#6a0418" stroke="rgba(0,0,0,0.35)" stroke-width="0.7"/>
<rect x="135.60" y="660.85" width="11.65" height="11.72" fill="#2e1214" stroke="rgba(0,0,0,0.35)" stroke-width="0.7"/>
<text class="g" x="149" y="670.39">BGLF3</text>
<text class="f" transform="translate(208.3,670.39) scale(0.9,1)">?</text>
<rect x="12.60" y="672.52" width="11.65" height="11.72" fill="#e6062c" stroke="rgba(0,0,0,0.35)" stroke-width="0.7"/>
<rect x="24.20" y="672.52" width="11.65" height="11.72" fill="#be0628" stroke="rgba(0,0,0,0.35)" stroke-width="0.7"/>
<rect x="35.80" y="672.52" width="11.65" height="11.72" fill="#e6062c" stroke="rgba(0,0,0,0.35)" stroke-width="0.7"/>
<rect x="61.70" y="672.52" width="11.65" height="11.72" fill="#be0628" stroke="rgba(0,0,0,0.35)" stroke-width="0.7"/>
<rect x="73.30" y="672.52" width="11.65" height="11.72" fill="#960622" stroke="rgba(0,0,0,0.35)" stroke-width="0.7"/>
<rect x="84.90" y="672.52" width="11.65" height="11.72" fill="#2e1214" stroke="rgba(0,0,0,0.35)" stroke-width="0.7"/>
<rect x="112.40" y="672.52" width="11.65" height="11.72" fill="#e6062c" stroke="rgba(0,0,0,0.35)" stroke-width="0.7"/>
<rect x="124.00" y="672.52" width="11.65" height="11.72" fill="#2e1214" stroke="rgba(0,0,0,0.35)" stroke-width="0.7"/>
<rect x="135.60" y="672.52" width="11.65" height="11.72" fill="#960622" stroke="rgba(0,0,0,0.35)" stroke-width="0.7"/>
<text class="g" x="149" y="682.06">BGRF1</text>
<text class="f" transform="translate(208.3,682.06) scale(0.9,1)">pack</text>
<rect x="12.60" y="684.19" width="11.65" height="11.72" fill="#960622" stroke="rgba(0,0,0,0.35)" stroke-width="0.7"/>
<rect x="24.20" y="684.19" width="11.65" height="11.72" fill="#6a0418" stroke="rgba(0,0,0,0.35)" stroke-width="0.7"/>
<rect x="35.80" y="684.19" width="11.65" height="11.72" fill="#be0628" stroke="rgba(0,0,0,0.35)" stroke-width="0.7"/>
<rect x="61.70" y="684.19" width="11.65" height="11.72" fill="#960622" stroke="rgba(0,0,0,0.35)" stroke-width="0.7"/>
<rect x="73.30" y="684.19" width="11.65" height="11.72" fill="#120f10" stroke="rgba(0,0,0,0.35)" stroke-width="0.7"/>
<rect x="84.90" y="684.19" width="11.65" height="11.72" fill="#13287e" stroke="rgba(0,0,0,0.35)" stroke-width="0.7"/>
<rect x="112.40" y="684.19" width="11.65" height="11.72" fill="#111d52" stroke="rgba(0,0,0,0.35)" stroke-width="0.7"/>
<rect x="124.00" y="684.19" width="11.65" height="11.72" fill="#be0628" stroke="rgba(0,0,0,0.35)" stroke-width="0.7"/>
<rect x="135.60" y="684.19" width="11.65" height="11.72" fill="#e6062c" stroke="rgba(0,0,0,0.35)" stroke-width="0.7"/>
<text class="g" x="149" y="693.73">BCLF1</text>
<text class="f" transform="translate(208.3,693.73) scale(0.9,1)">cap</text>
<rect x="12.60" y="695.86" width="11.65" height="11.72" fill="#be0628" stroke="rgba(0,0,0,0.35)" stroke-width="0.7"/>
<rect x="24.20" y="695.86" width="11.65" height="11.72" fill="#be0628" stroke="rgba(0,0,0,0.35)" stroke-width="0.7"/>
<rect x="35.80" y="695.86" width="11.65" height="11.72" fill="#e6062c" stroke="rgba(0,0,0,0.35)" stroke-width="0.7"/>
<rect x="61.70" y="695.86" width="11.65" height="11.72" fill="#6a0418" stroke="rgba(0,0,0,0.35)" stroke-width="0.7"/>
<rect x="73.30" y="695.86" width="11.65" height="11.72" fill="#be0628" stroke="rgba(0,0,0,0.35)" stroke-width="0.7"/>
<rect x="84.90" y="695.86" width="11.65" height="11.72" fill="#960622" stroke="rgba(0,0,0,0.35)" stroke-width="0.7"/>
<rect x="112.40" y="695.86" width="11.65" height="11.72" fill="#be0628" stroke="rgba(0,0,0,0.35)" stroke-width="0.7"/>
<rect x="124.00" y="695.86" width="11.65" height="11.72" fill="#6a0418" stroke="rgba(0,0,0,0.35)" stroke-width="0.7"/>
<rect x="135.60" y="695.86" width="11.65" height="11.72" fill="#6a0418" stroke="rgba(0,0,0,0.35)" stroke-width="0.7"/>
<text class="g" x="149" y="705.40">BXLF1</text>
<text class="f" transform="translate(208.3,705.40) scale(0.9,1)">tk</text>
<rect x="12.60" y="707.53" width="11.65" height="11.72" fill="#be0628" stroke="rgba(0,0,0,0.35)" stroke-width="0.7"/>
<rect x="24.20" y="707.53" width="11.65" height="11.72" fill="#be0628" stroke="rgba(0,0,0,0.35)" stroke-width="0.7"/>
<rect x="35.80" y="707.53" width="11.65" height="11.72" fill="#be0628" stroke="rgba(0,0,0,0.35)" stroke-width="0.7"/>
<rect x="61.70" y="707.53" width="11.65" height="11.72" fill="#960622" stroke="rgba(0,0,0,0.35)" stroke-width="0.7"/>
<rect x="73.30" y="707.53" width="11.65" height="11.72" fill="#960622" stroke="rgba(0,0,0,0.35)" stroke-width="0.7"/>
<rect x="84.90" y="707.53" width="11.65" height="11.72" fill="#2e1214" stroke="rgba(0,0,0,0.35)" stroke-width="0.7"/>
<rect x="112.40" y="707.53" width="11.65" height="11.72" fill="#be0628" stroke="rgba(0,0,0,0.35)" stroke-width="0.7"/>
<rect x="124.00" y="707.53" width="11.65" height="11.72" fill="#6a0418" stroke="rgba(0,0,0,0.35)" stroke-width="0.7"/>
<rect x="135.60" y="707.53" width="11.65" height="11.72" fill="#6a0418" stroke="rgba(0,0,0,0.35)" stroke-width="0.7"/>
<text class="g" x="149" y="717.07">BXLF2</text>
<text class="f" transform="translate(208.3,717.07) scale(0.9,1)">gH</text>
<rect x="12.60" y="719.20" width="11.65" height="11.72" fill="#6a0418" stroke="rgba(0,0,0,0.35)" stroke-width="0.7"/>
<rect x="24.20" y="719.20" width="11.65" height="11.72" fill="#6a0418" stroke="rgba(0,0,0,0.35)" stroke-width="0.7"/>
<rect x="35.80" y="719.20" width="11.65" height="11.72" fill="#e6062c" stroke="rgba(0,0,0,0.35)" stroke-width="0.7"/>
<rect x="61.70" y="719.20" width="11.65" height="11.72" fill="#2e1214" stroke="rgba(0,0,0,0.35)" stroke-width="0.7"/>
<rect x="73.30" y="719.20" width="11.65" height="11.72" fill="#120f10" stroke="rgba(0,0,0,0.35)" stroke-width="0.7"/>
<rect x="84.90" y="719.20" width="11.65" height="11.72" fill="#111d52" stroke="rgba(0,0,0,0.35)" stroke-width="0.7"/>
<rect x="112.40" y="719.20" width="11.65" height="11.72" fill="#be0628" stroke="rgba(0,0,0,0.35)" stroke-width="0.7"/>
<rect x="124.00" y="719.20" width="11.65" height="11.72" fill="#960622" stroke="rgba(0,0,0,0.35)" stroke-width="0.7"/>
<rect x="135.60" y="719.20" width="11.65" height="11.72" fill="#2e1214" stroke="rgba(0,0,0,0.35)" stroke-width="0.7"/>
<text class="g" x="149" y="728.74">BXRF1</text>
<text class="f" transform="translate(208.3,728.74) scale(0.9,1)">?</text>
<rect x="12.60" y="730.87" width="11.65" height="11.72" fill="#0f1330" stroke="rgba(0,0,0,0.35)" stroke-width="0.7"/>
<rect x="24.20" y="730.87" width="11.65" height="11.72" fill="#0f1330" stroke="rgba(0,0,0,0.35)" stroke-width="0.7"/>
<rect x="35.80" y="730.87" width="11.65" height="11.72" fill="#0f1330" stroke="rgba(0,0,0,0.35)" stroke-width="0.7"/>
<rect x="61.70" y="730.87" width="11.65" height="11.72" fill="#111d52" stroke="rgba(0,0,0,0.35)" stroke-width="0.7"/>
<rect x="73.30" y="730.87" width="11.65" height="11.72" fill="#120f10" stroke="rgba(0,0,0,0.35)" stroke-width="0.7"/>
<rect x="84.90" y="730.87" width="11.65" height="11.72" fill="#111d52" stroke="rgba(0,0,0,0.35)" stroke-width="0.7"/>
<rect x="112.40" y="730.87" width="11.65" height="11.72" fill="#be0628" stroke="rgba(0,0,0,0.35)" stroke-width="0.7"/>
<rect x="124.00" y="730.87" width="11.65" height="11.72" fill="#e6062c" stroke="rgba(0,0,0,0.35)" stroke-width="0.7"/>
<rect x="135.60" y="730.87" width="11.65" height="11.72" fill="#26429e" stroke="rgba(0,0,0,0.35)" stroke-width="0.7"/>
<text class="g" x="149" y="740.41">BALF3</text>
<text class="f" transform="translate(208.3,740.41) scale(0.9,1)">transp</text>
<rect x="12.60" y="742.54" width="11.65" height="11.72" fill="#be0628" stroke="rgba(0,0,0,0.35)" stroke-width="0.7"/>
<rect x="24.20" y="742.54" width="11.65" height="11.72" fill="#960622" stroke="rgba(0,0,0,0.35)" stroke-width="0.7"/>
<rect x="35.80" y="742.54" width="11.65" height="11.72" fill="#be0628" stroke="rgba(0,0,0,0.35)" stroke-width="0.7"/>
<rect x="61.70" y="742.54" width="11.65" height="11.72" fill="#2e1214" stroke="rgba(0,0,0,0.35)" stroke-width="0.7"/>
<rect x="73.30" y="742.54" width="11.65" height="11.72" fill="#6a0418" stroke="rgba(0,0,0,0.35)" stroke-width="0.7"/>
<rect x="84.90" y="742.54" width="11.65" height="11.72" fill="#120f10" stroke="rgba(0,0,0,0.35)" stroke-width="0.7"/>
<rect x="112.40" y="742.54" width="11.65" height="11.72" fill="#2e1214" stroke="rgba(0,0,0,0.35)" stroke-width="0.7"/>
<rect x="124.00" y="742.54" width="11.65" height="11.72" fill="#e6062c" stroke="rgba(0,0,0,0.35)" stroke-width="0.7"/>
<rect x="135.60" y="742.54" width="11.65" height="11.72" fill="#111d52" stroke="rgba(0,0,0,0.35)" stroke-width="0.7"/>
<text class="g" x="149" y="752.08">BNLF2b</text>
<text class="f" transform="translate(208.3,752.08) scale(0.9,1)">?</text>
<rect x="12.60" y="754.21" width="11.65" height="11.72" fill="#960622" stroke="rgba(0,0,0,0.35)" stroke-width="0.7"/>
<rect x="24.20" y="754.21" width="11.65" height="11.72" fill="#6a0418" stroke="rgba(0,0,0,0.35)" stroke-width="0.7"/>
<rect x="35.80" y="754.21" width="11.65" height="11.72" fill="#960622" stroke="rgba(0,0,0,0.35)" stroke-width="0.7"/>
<rect x="61.70" y="754.21" width="11.65" height="11.72" fill="#2e1214" stroke="rgba(0,0,0,0.35)" stroke-width="0.7"/>
<rect x="73.30" y="754.21" width="11.65" height="11.72" fill="#120f10" stroke="rgba(0,0,0,0.35)" stroke-width="0.7"/>
<rect x="84.90" y="754.21" width="11.65" height="11.72" fill="#120f10" stroke="rgba(0,0,0,0.35)" stroke-width="0.7"/>
<rect x="112.40" y="754.21" width="11.65" height="11.72" fill="#e6062c" stroke="rgba(0,0,0,0.35)" stroke-width="0.7"/>
<rect x="124.00" y="754.21" width="11.65" height="11.72" fill="#120f10" stroke="rgba(0,0,0,0.35)" stroke-width="0.7"/>
<rect x="135.60" y="754.21" width="11.65" height="11.72" fill="#960622" stroke="rgba(0,0,0,0.35)" stroke-width="0.7"/>
<text class="g" x="149" y="763.75">BNLF2a</text>
<text class="f" transform="translate(208.3,763.75) scale(0.9,1)">?</text>
<rect x="12.60" y="765.88" width="11.65" height="11.72" fill="#6a0418" stroke="rgba(0,0,0,0.35)" stroke-width="0.7"/>
<rect x="24.20" y="765.88" width="11.65" height="11.72" fill="#2e1214" stroke="rgba(0,0,0,0.35)" stroke-width="0.7"/>
<rect x="35.80" y="765.88" width="11.65" height="11.72" fill="#960622" stroke="rgba(0,0,0,0.35)" stroke-width="0.7"/>
<rect x="61.70" y="765.88" width="11.65" height="11.72" fill="#120f10" stroke="rgba(0,0,0,0.35)" stroke-width="0.7"/>
<rect x="73.30" y="765.88" width="11.65" height="11.72" fill="#2e1214" stroke="rgba(0,0,0,0.35)" stroke-width="0.7"/>
<rect x="84.90" y="765.88" width="11.65" height="11.72" fill="#111d52" stroke="rgba(0,0,0,0.35)" stroke-width="0.7"/>
<rect x="112.40" y="765.88" width="11.65" height="11.72" fill="#be0628" stroke="rgba(0,0,0,0.35)" stroke-width="0.7"/>
<rect x="124.00" y="765.88" width="11.65" height="11.72" fill="#be0628" stroke="rgba(0,0,0,0.35)" stroke-width="0.7"/>
<rect x="135.60" y="765.88" width="11.65" height="11.72" fill="#be0628" stroke="rgba(0,0,0,0.35)" stroke-width="0.7"/>
<text class="g" x="149" y="775.42">BFLF2</text>
<text class="f" transform="translate(208.3,775.42) scale(0.9,1)">?</text>
<rect x="12.60" y="777.55" width="11.65" height="11.72" fill="#be0628" stroke="rgba(0,0,0,0.35)" stroke-width="0.7"/>
<rect x="24.20" y="777.55" width="11.65" height="11.72" fill="#960622" stroke="rgba(0,0,0,0.35)" stroke-width="0.7"/>
<rect x="35.80" y="777.55" width="11.65" height="11.72" fill="#be0628" stroke="rgba(0,0,0,0.35)" stroke-width="0.7"/>
<rect x="61.70" y="777.55" width="11.65" height="11.72" fill="#960622" stroke="rgba(0,0,0,0.35)" stroke-width="0.7"/>
<rect x="73.30" y="777.55" width="11.65" height="11.72" fill="#6a0418" stroke="rgba(0,0,0,0.35)" stroke-width="0.7"/>
<rect x="84.90" y="777.55" width="11.65" height="11.72" fill="#960622" stroke="rgba(0,0,0,0.35)" stroke-width="0.7"/>
<rect x="112.40" y="777.55" width="11.65" height="11.72" fill="#be0628" stroke="rgba(0,0,0,0.35)" stroke-width="0.7"/>
<rect x="124.00" y="777.55" width="11.65" height="11.72" fill="#960622" stroke="rgba(0,0,0,0.35)" stroke-width="0.7"/>
<rect x="135.60" y="777.55" width="11.65" height="11.72" fill="#be0628" stroke="rgba(0,0,0,0.35)" stroke-width="0.7"/>
<text class="g" x="149" y="787.09">LMP-1</text>
<text class="f" transform="translate(208.3,787.09) scale(0.9,1)">membr</text>
<rect x="12.60" y="789.22" width="11.65" height="11.72" fill="#be0628" stroke="rgba(0,0,0,0.35)" stroke-width="0.7"/>
<rect x="24.20" y="789.22" width="11.65" height="11.72" fill="#be0628" stroke="rgba(0,0,0,0.35)" stroke-width="0.7"/>
<rect x="35.80" y="789.22" width="11.65" height="11.72" fill="#be0628" stroke="rgba(0,0,0,0.35)" stroke-width="0.7"/>
<rect x="61.70" y="789.22" width="11.65" height="11.72" fill="#960622" stroke="rgba(0,0,0,0.35)" stroke-width="0.7"/>
<rect x="73.30" y="789.22" width="11.65" height="11.72" fill="#2e1214" stroke="rgba(0,0,0,0.35)" stroke-width="0.7"/>
<rect x="84.90" y="789.22" width="11.65" height="11.72" fill="#120f10" stroke="rgba(0,0,0,0.35)" stroke-width="0.7"/>
<rect x="112.40" y="789.22" width="11.65" height="11.72" fill="#960622" stroke="rgba(0,0,0,0.35)" stroke-width="0.7"/>
<rect x="124.00" y="789.22" width="11.65" height="11.72" fill="#111d52" stroke="rgba(0,0,0,0.35)" stroke-width="0.7"/>
<rect x="135.60" y="789.22" width="11.65" height="11.72" fill="#be0628" stroke="rgba(0,0,0,0.35)" stroke-width="0.7"/>
<text class="g" x="149" y="798.76">BCRF1_Dup1</text>
<text class="f" transform="translate(208.3,798.76) scale(0.9,1)">vIL-10</text>
<rect x="12.60" y="800.89" width="11.65" height="11.72" fill="#960622" stroke="rgba(0,0,0,0.35)" stroke-width="0.7"/>
<rect x="24.20" y="800.89" width="11.65" height="11.72" fill="#2e1214" stroke="rgba(0,0,0,0.35)" stroke-width="0.7"/>
<rect x="35.80" y="800.89" width="11.65" height="11.72" fill="#be0628" stroke="rgba(0,0,0,0.35)" stroke-width="0.7"/>
<rect x="61.70" y="800.89" width="11.65" height="11.72" fill="#0f1330" stroke="rgba(0,0,0,0.35)" stroke-width="0.7"/>
<rect x="73.30" y="800.89" width="11.65" height="11.72" fill="#be0628" stroke="rgba(0,0,0,0.35)" stroke-width="0.7"/>
<rect x="84.90" y="800.89" width="11.65" height="11.72" fill="#111d52" stroke="rgba(0,0,0,0.35)" stroke-width="0.7"/>
<rect x="112.40" y="800.89" width="11.65" height="11.72" fill="#120f10" stroke="rgba(0,0,0,0.35)" stroke-width="0.7"/>
<rect x="124.00" y="800.89" width="11.65" height="11.72" fill="#120f10" stroke="rgba(0,0,0,0.35)" stroke-width="0.7"/>
<rect x="135.60" y="800.89" width="11.65" height="11.72" fill="#be0628" stroke="rgba(0,0,0,0.35)" stroke-width="0.7"/>
<text class="g" x="149" y="810.43">BALF1</text>
<text class="f" transform="translate(208.3,810.43) scale(0.9,1)">?</text>
<rect x="12.60" y="812.56" width="11.65" height="11.72" fill="#be0628" stroke="rgba(0,0,0,0.35)" stroke-width="0.7"/>
<rect x="24.20" y="812.56" width="11.65" height="11.72" fill="#960622" stroke="rgba(0,0,0,0.35)" stroke-width="0.7"/>
<rect x="35.80" y="812.56" width="11.65" height="11.72" fill="#be0628" stroke="rgba(0,0,0,0.35)" stroke-width="0.7"/>
<rect x="61.70" y="812.56" width="11.65" height="11.72" fill="#2e1214" stroke="rgba(0,0,0,0.35)" stroke-width="0.7"/>
<rect x="73.30" y="812.56" width="11.65" height="11.72" fill="#6a0418" stroke="rgba(0,0,0,0.35)" stroke-width="0.7"/>
<rect x="84.90" y="812.56" width="11.65" height="11.72" fill="#120f10" stroke="rgba(0,0,0,0.35)" stroke-width="0.7"/>
<rect x="112.40" y="812.56" width="11.65" height="11.72" fill="#e6062c" stroke="rgba(0,0,0,0.35)" stroke-width="0.7"/>
<rect x="124.00" y="812.56" width="11.65" height="11.72" fill="#111d52" stroke="rgba(0,0,0,0.35)" stroke-width="0.7"/>
<rect x="135.60" y="812.56" width="11.65" height="11.72" fill="#111d52" stroke="rgba(0,0,0,0.35)" stroke-width="0.7"/>
<text class="g" x="149" y="822.10">BFRF1</text>
<text class="f" transform="translate(208.3,822.10) scale(0.9,1)">teg</text>
<rect x="12.60" y="824.23" width="11.65" height="11.72" fill="#be0628" stroke="rgba(0,0,0,0.35)" stroke-width="0.7"/>
<rect x="24.20" y="824.23" width="11.65" height="11.72" fill="#960622" stroke="rgba(0,0,0,0.35)" stroke-width="0.7"/>
<rect x="35.80" y="824.23" width="11.65" height="11.72" fill="#be0628" stroke="rgba(0,0,0,0.35)" stroke-width="0.7"/>
<rect x="61.70" y="824.23" width="11.65" height="11.72" fill="#2e1214" stroke="rgba(0,0,0,0.35)" stroke-width="0.7"/>
<rect x="73.30" y="824.23" width="11.65" height="11.72" fill="#2e1214" stroke="rgba(0,0,0,0.35)" stroke-width="0.7"/>
<rect x="84.90" y="824.23" width="11.65" height="11.72" fill="#120f10" stroke="rgba(0,0,0,0.35)" stroke-width="0.7"/>
<rect x="112.40" y="824.23" width="11.65" height="11.72" fill="#26429e" stroke="rgba(0,0,0,0.35)" stroke-width="0.7"/>
<rect x="124.00" y="824.23" width="11.65" height="11.72" fill="#6a0418" stroke="rgba(0,0,0,0.35)" stroke-width="0.7"/>
<rect x="135.60" y="824.23" width="11.65" height="11.72" fill="#2e1214" stroke="rgba(0,0,0,0.35)" stroke-width="0.7"/>
<text class="g" x="149" y="833.77">BTRF1</text>
<text class="f" transform="translate(208.3,833.77) scale(0.9,1)">?</text>
<text class="bl" x="26.2" y="853" text-anchor="middle">AZT</text>
<text class="bl" x="75.4" y="853" text-anchor="middle">GCV</text>
<text class="bl" x="127.7" y="853" text-anchor="middle">BAY</text>
<text class="pl" x="259.8" y="13.8">B</text>
<rect x="287.0" y="27.6" width="202.80" height="81.10" fill="none" stroke="#e0e0e0" stroke-width="0.9"/>
<polyline points="287.0,27.6 287.0,108.7 489.80,108.7" fill="none" stroke="#cacaca" stroke-width="0.9"/>
<line x1="285.0" y1="108.70" x2="287.0" y2="108.70" stroke="#d0d0d0" stroke-width="0.9"/>
<text class="c" font-size="6.9" x="281.40" y="111.20" text-anchor="end">0</text>
<line x1="285.0" y1="68.15" x2="287.0" y2="68.15" stroke="#d0d0d0" stroke-width="0.9"/>
<text class="c" font-size="6.9" x="281.40" y="70.65" text-anchor="end">5</text>
<line x1="285.0" y1="27.60" x2="287.0" y2="27.60" stroke="#d0d0d0" stroke-width="0.9"/>
<text class="c" font-size="6.9" x="281.40" y="30.10" text-anchor="end">10</text>
<line x1="337.65" y1="108.7" x2="337.65" y2="110.7" stroke="#d0d0d0" stroke-width="0.9"/>
<line x1="388.30" y1="108.7" x2="388.30" y2="110.7" stroke="#d0d0d0" stroke-width="0.9"/>
<line x1="438.95" y1="108.7" x2="438.95" y2="110.7" stroke="#d0d0d0" stroke-width="0.9"/>
<rect x="298.00" y="100.59" width="14.2" height="8.11" fill="#9a9a9a"/>
<rect x="312.20" y="100.59" width="14.2" height="8.11" fill="#000"/>
<text class="c" font-size="6.2" x="305.10" y="96.99" text-anchor="middle">1</text>
<text class="c" font-size="6.2" x="319.30" y="96.99" text-anchor="middle">1</text>
<text class="c" font-size="7" x="312.32" y="121.70" text-anchor="middle">0 h</text>
<rect x="348.65" y="95.72" width="14.2" height="12.98" fill="#9a9a9a"/>
<rect x="362.85" y="93.29" width="14.2" height="15.41" fill="#000"/>
<text class="c" font-size="6.2" x="355.75" y="92.12" text-anchor="middle">2</text>
<text class="c" font-size="6.2" x="369.95" y="89.69" text-anchor="middle">2</text>
<text class="c" font-size="7" x="362.97" y="121.70" text-anchor="middle">1 h</text>
<rect x="399.30" y="92.48" width="14.2" height="16.22" fill="#9a9a9a"/>
<rect x="413.50" y="88.83" width="14.2" height="19.87" fill="#000"/>
<text class="c" font-size="6.2" x="406.40" y="88.88" text-anchor="middle">2</text>
<text class="c" font-size="6.2" x="420.60" y="85.23" text-anchor="middle">3</text>
<text class="c" font-size="7" x="413.62" y="121.70" text-anchor="middle">8 h</text>
<rect x="449.95" y="94.51" width="14.2" height="14.19" fill="#9a9a9a"/>
<rect x="464.15" y="57.61" width="14.2" height="51.09" fill="#000"/>
<text class="c" font-size="6.2" x="457.05" y="90.91" text-anchor="middle">2</text>
<text class="c" font-size="6.2" x="471.25" y="54.01" text-anchor="middle">6</text>
<text class="c" font-size="7" x="464.28" y="121.70" text-anchor="middle">16 h</text>
<line x1="287.0" y1="100.80" x2="489.8" y2="100.80" stroke="#333" stroke-width="0.9" stroke-dasharray="1.5,1"/>
<text class="lb" style="font-size:8.2px" x="491.8" y="103.30" textLength="26" lengthAdjust="spacingAndGlyphs">GAPDH</text>
<text class="c" font-size="6.8" x="388.4" y="133.00" text-anchor="middle">treatment</text>
<text class="c" font-size="6.8" transform="translate(267.90,68.15) rotate(-90)" text-anchor="middle">fold induction</text>
<text class="c" font-size="7.2" x="489" y="24.60" text-anchor="end">BL8: TK <tspan font-style="italic">(BXLF-1)</tspan></text>
<rect x="291.10" y="32.20" width="3.4" height="3.4" fill="#9a9a9a"/>
<text class="c" font-size="6.2" x="296.30" y="36.00">GCV</text>
<rect x="291.10" y="41.00" width="3.4" height="3.4" fill="#000"/>
<text class="c" font-size="6.2" x="296.30" y="44.80">AZT</text>
<rect x="286.3" y="158.7" width="202.80" height="80.70" fill="none" stroke="#e0e0e0" stroke-width="0.9"/>
<polyline points="286.3,158.7 286.3,239.4 489.10,239.4" fill="none" stroke="#cacaca" stroke-width="0.9"/>
<line x1="284.3" y1="239.40" x2="286.3" y2="239.40" stroke="#d0d0d0" stroke-width="0.9"/>
<text class="c" font-size="6.9" x="280.70" y="241.90" text-anchor="end">0</text>
<line x1="284.3" y1="199.05" x2="286.3" y2="199.05" stroke="#d0d0d0" stroke-width="0.9"/>
<text class="c" font-size="6.9" x="280.70" y="201.55" text-anchor="end">5</text>
<line x1="284.3" y1="158.70" x2="286.3" y2="158.70" stroke="#d0d0d0" stroke-width="0.9"/>
<text class="c" font-size="6.9" x="280.70" y="161.20" text-anchor="end">10</text>
<line x1="336.95" y1="239.4" x2="336.95" y2="241.4" stroke="#d0d0d0" stroke-width="0.9"/>
<line x1="387.60" y1="239.4" x2="387.60" y2="241.4" stroke="#d0d0d0" stroke-width="0.9"/>
<line x1="438.25" y1="239.4" x2="438.25" y2="241.4" stroke="#d0d0d0" stroke-width="0.9"/>
<rect x="297.30" y="231.33" width="14.2" height="8.07" fill="#9a9a9a"/>
<rect x="311.50" y="231.33" width="14.2" height="8.07" fill="#000"/>
<text class="c" font-size="6.2" x="304.40" y="227.73" text-anchor="middle">1</text>
<text class="c" font-size="6.2" x="318.60" y="227.73" text-anchor="middle">1</text>
<text class="c" font-size="7" x="311.62" y="252.40" text-anchor="middle">0 h</text>
<rect x="347.95" y="228.91" width="14.2" height="10.49" fill="#9a9a9a"/>
<rect x="362.15" y="223.26" width="14.2" height="16.14" fill="#000"/>
<text class="c" font-size="6.2" x="355.05" y="225.31" text-anchor="middle">1</text>
<text class="c" font-size="6.2" x="369.25" y="219.66" text-anchor="middle">2</text>
<text class="c" font-size="7" x="362.28" y="252.40" text-anchor="middle">1 h</text>
<rect x="398.60" y="226.49" width="14.2" height="12.91" fill="#9a9a9a"/>
<rect x="412.80" y="227.30" width="14.2" height="12.11" fill="#000"/>
<text class="c" font-size="6.2" x="405.70" y="222.89" text-anchor="middle">2</text>
<text class="c" font-size="6.2" x="419.90" y="223.70" text-anchor="middle">2</text>
<text class="c" font-size="7" x="412.93" y="252.40" text-anchor="middle">8 h</text>
<rect x="449.25" y="230.93" width="14.2" height="8.47" fill="#9a9a9a"/>
<rect x="463.45" y="212.77" width="14.2" height="26.63" fill="#000"/>
<text class="c" font-size="6.2" x="456.35" y="227.33" text-anchor="middle">1</text>
<text class="c" font-size="6.2" x="470.55" y="209.17" text-anchor="middle">3</text>
<text class="c" font-size="7" x="463.57" y="252.40" text-anchor="middle">16 h</text>
<line x1="286.3" y1="228.90" x2="489.1" y2="228.90" stroke="#333" stroke-width="0.9" stroke-dasharray="1.5,1"/>
<text class="lb" style="font-size:8.2px" x="491.8" y="231.40" textLength="26" lengthAdjust="spacingAndGlyphs">GAPDH</text>
<text class="c" font-size="6.8" x="388.5" y="263.90" text-anchor="middle">treatment</text>
<text class="c" font-size="6.8" transform="translate(267.20,199.05) rotate(-90)" text-anchor="middle">fold induction</text>
<text class="c" font-size="7.2" x="489" y="155.70" text-anchor="end">BL8: Kinase UL97 <tspan font-style="italic">(BGLF-4)</tspan></text>
<rect x="290.40" y="163.30" width="3.4" height="3.4" fill="#9a9a9a"/>
<text class="c" font-size="6.2" x="295.60" y="167.10">GCV</text>
<rect x="290.40" y="172.10" width="3.4" height="3.4" fill="#000"/>
<text class="c" font-size="6.2" x="295.60" y="175.90">AZT</text>
<rect x="286.2" y="277.0" width="202.80" height="80.80" fill="none" stroke="#e0e0e0" stroke-width="0.9"/>
<polyline points="286.2,277.0 286.2,357.8 489.00,357.8" fill="none" stroke="#cacaca" stroke-width="0.9"/>
<line x1="284.2" y1="357.80" x2="286.2" y2="357.80" stroke="#d0d0d0" stroke-width="0.9"/>
<text class="c" font-size="6.9" x="280.60" y="360.30" text-anchor="end">0</text>
<line x1="284.2" y1="317.40" x2="286.2" y2="317.40" stroke="#d0d0d0" stroke-width="0.9"/>
<text class="c" font-size="6.9" x="280.60" y="319.90" text-anchor="end">5</text>
<line x1="284.2" y1="277.00" x2="286.2" y2="277.00" stroke="#d0d0d0" stroke-width="0.9"/>
<text class="c" font-size="6.9" x="280.60" y="279.50" text-anchor="end">10</text>
<line x1="336.85" y1="357.8" x2="336.85" y2="359.8" stroke="#d0d0d0" stroke-width="0.9"/>
<line x1="387.50" y1="357.8" x2="387.50" y2="359.8" stroke="#d0d0d0" stroke-width="0.9"/>
<line x1="438.15" y1="357.8" x2="438.15" y2="359.8" stroke="#d0d0d0" stroke-width="0.9"/>
<rect x="297.20" y="349.32" width="14.2" height="8.48" fill="#9a9a9a"/>
<rect x="311.40" y="349.32" width="14.2" height="8.48" fill="#000"/>
<text class="c" font-size="6.2" x="304.30" y="345.72" text-anchor="middle">1</text>
<text class="c" font-size="6.2" x="318.50" y="345.72" text-anchor="middle">1</text>
<text class="c" font-size="7" x="311.52" y="370.80" text-anchor="middle">0 h</text>
<rect x="347.85" y="339.22" width="14.2" height="18.58" fill="#9a9a9a"/>
<rect x="362.05" y="330.33" width="14.2" height="27.47" fill="#000"/>
<text class="c" font-size="6.2" x="354.95" y="335.62" text-anchor="middle">2</text>
<text class="c" font-size="6.2" x="369.15" y="326.73" text-anchor="middle">3</text>
<text class="c" font-size="7" x="362.18" y="370.80" text-anchor="middle">1 h</text>
<rect x="398.50" y="348.10" width="14.2" height="9.70" fill="#9a9a9a"/>
<rect x="412.70" y="335.18" width="14.2" height="22.62" fill="#000"/>
<text class="c" font-size="6.2" x="405.60" y="344.50" text-anchor="middle">1</text>
<text class="c" font-size="6.2" x="419.80" y="331.58" text-anchor="middle">3</text>
<text class="c" font-size="7" x="412.82" y="370.80" text-anchor="middle">8 h</text>
<rect x="449.15" y="348.91" width="14.2" height="8.89" fill="#9a9a9a"/>
<rect x="463.35" y="288.31" width="14.2" height="69.49" fill="#000"/>
<text class="c" font-size="6.2" x="456.25" y="345.31" text-anchor="middle">1</text>
<text class="c" font-size="6.2" x="470.45" y="284.71" text-anchor="middle">9</text>
<text class="c" font-size="7" x="463.47" y="370.80" text-anchor="middle">16 h</text>
<line x1="286.2" y1="350.40" x2="489.0" y2="350.40" stroke="#333" stroke-width="0.9" stroke-dasharray="1.5,1"/>
<text class="lb" style="font-size:8.2px" x="491.8" y="352.90" textLength="26" lengthAdjust="spacingAndGlyphs">GAPDH</text>
<text class="c" font-size="6.8" x="385.6" y="381.80" text-anchor="middle">treatment</text>
<text class="c" font-size="6.8" transform="translate(267.10,317.40) rotate(-90)" text-anchor="middle">fold induction</text>
<text class="c" font-size="7.2" x="489" y="274.00" text-anchor="end">BL8: vIL-10 <tspan font-style="italic">(BCRF-1)</tspan></text>
<rect x="290.30" y="281.60" width="3.4" height="3.4" fill="#9a9a9a"/>
<text class="c" font-size="6.2" x="295.50" y="285.40">GCV</text>
<rect x="290.30" y="290.40" width="3.4" height="3.4" fill="#000"/>
<text class="c" font-size="6.2" x="295.50" y="294.20">AZT</text>
<rect x="286.1" y="406.2" width="202.80" height="81.10" fill="none" stroke="#e0e0e0" stroke-width="0.9"/>
<polyline points="286.1,406.2 286.1,487.3 488.90,487.3" fill="none" stroke="#cacaca" stroke-width="0.9"/>
<line x1="284.1" y1="487.30" x2="286.1" y2="487.30" stroke="#d0d0d0" stroke-width="0.9"/>
<text class="c" font-size="6.9" x="280.50" y="489.80" text-anchor="end">0</text>
<line x1="284.1" y1="446.75" x2="286.1" y2="446.75" stroke="#d0d0d0" stroke-width="0.9"/>
<text class="c" font-size="6.9" x="280.50" y="449.25" text-anchor="end">5</text>
<line x1="284.1" y1="406.20" x2="286.1" y2="406.20" stroke="#d0d0d0" stroke-width="0.9"/>
<text class="c" font-size="6.9" x="280.50" y="408.70" text-anchor="end">10</text>
<line x1="336.75" y1="487.3" x2="336.75" y2="489.3" stroke="#d0d0d0" stroke-width="0.9"/>
<line x1="387.40" y1="487.3" x2="387.40" y2="489.3" stroke="#d0d0d0" stroke-width="0.9"/>
<line x1="438.05" y1="487.3" x2="438.05" y2="489.3" stroke="#d0d0d0" stroke-width="0.9"/>
<rect x="297.10" y="478.78" width="14.2" height="8.52" fill="#9a9a9a"/>
<rect x="311.30" y="478.78" width="14.2" height="8.52" fill="#000"/>
<text class="c" font-size="6.2" x="304.20" y="475.18" text-anchor="middle">1</text>
<text class="c" font-size="6.2" x="318.40" y="475.18" text-anchor="middle">1</text>
<text class="c" font-size="7" x="311.43" y="500.30" text-anchor="middle">0 h</text>
<rect x="347.75" y="479.19" width="14.2" height="8.11" fill="#9a9a9a"/>
<rect x="361.95" y="471.08" width="14.2" height="16.22" fill="#000"/>
<text class="c" font-size="6.2" x="354.85" y="475.59" text-anchor="middle">1</text>
<text class="c" font-size="6.2" x="369.05" y="467.48" text-anchor="middle">2</text>
<text class="c" font-size="7" x="362.07" y="500.30" text-anchor="middle">1 h</text>
<rect x="398.40" y="471.08" width="14.2" height="16.22" fill="#9a9a9a"/>
<rect x="412.60" y="468.65" width="14.2" height="18.65" fill="#000"/>
<text class="c" font-size="6.2" x="405.50" y="467.48" text-anchor="middle">2</text>
<text class="c" font-size="6.2" x="419.70" y="465.05" text-anchor="middle">2</text>
<text class="c" font-size="7" x="412.73" y="500.30" text-anchor="middle">8 h</text>
<rect x="449.05" y="470.27" width="14.2" height="17.03" fill="#9a9a9a"/>
<rect x="463.25" y="438.64" width="14.2" height="48.66" fill="#000"/>
<text class="c" font-size="6.2" x="456.15" y="466.67" text-anchor="middle">2</text>
<text class="c" font-size="6.2" x="470.35" y="435.04" text-anchor="middle">6</text>
<text class="c" font-size="7" x="463.38" y="500.30" text-anchor="middle">16 h</text>
<line x1="286.1" y1="470.60" x2="488.90000000000003" y2="470.60" stroke="#333" stroke-width="0.9" stroke-dasharray="1.5,1"/>
<text class="lb" style="font-size:8.2px" x="491.8" y="473.10" textLength="26" lengthAdjust="spacingAndGlyphs">GAPDH</text>
<text class="c" font-size="6.8" x="387.4" y="511.90" text-anchor="middle">treatment</text>
<text class="c" font-size="6.8" transform="translate(267.00,446.75) rotate(-90)" text-anchor="middle">fold induction</text>
<text class="c" font-size="7.2" x="489" y="403.20" text-anchor="end">BL8: polAcc <tspan font-style="italic">BMRF1</tspan></text>
<rect x="290.20" y="410.80" width="3.4" height="3.4" fill="#9a9a9a"/>
<text class="c" font-size="6.2" x="295.40" y="414.60">GCV</text>
<rect x="290.20" y="419.60" width="3.4" height="3.4" fill="#000"/>
<text class="c" font-size="6.2" x="295.40" y="423.40">AZT</text>
<text class="pl" x="259.8" y="545.5">C</text>
<text class="ln" transform="translate(302.9,601.8) rotate(-52)">Ctrl</text>
<text class="ln" transform="translate(321.9,601.8) rotate(-52)">AZT 16h</text>
<text class="ln" transform="translate(340.9,601.8) rotate(-52)">AZT 24h</text>
<text class="ln" transform="translate(359.9,601.8) rotate(-52)">AZT 32h</text>
<text class="ln" transform="translate(378.9,601.8) rotate(-52)">Na-butyrate 16h</text>
<text class="ln" transform="translate(397.9,601.8) rotate(-52)">Na-butyrate 24h</text>
<text class="ln" transform="translate(417.9,601.8) rotate(-52)">Na-butyrate 32h</text>
<defs><filter id="bl" x="-20%" y="-50%" width="140%" height="200%"><feGaussianBlur stdDeviation="0.55"/></filter></defs>
<g filter="url(#bl)">
<ellipse cx="303" cy="607.6" rx="6.5" ry="1.0" fill="#000" opacity="0.22"/>
<ellipse cx="322" cy="607.6" rx="7.0" ry="1.3" fill="#000" opacity="0.5"/>
<ellipse cx="341" cy="607.6" rx="7.0" ry="1.7" fill="#000" opacity="0.8"/>
<ellipse cx="379" cy="607.6" rx="6.5" ry="1.3" fill="#000" opacity="0.5"/>
<ellipse cx="398" cy="607.6" rx="7.0" ry="2.0" fill="#000" opacity="0.88"/>
<rect x="353.3" y="604.2" width="14.5" height="6.8" rx="1.5" fill="#0c0c0c"/>
<rect x="354.3" y="602.6" width="12.5" height="2.5" rx="1.2" fill="#666"/>
<rect x="411" y="601.5" width="15" height="9.5" rx="2" fill="#0c0c0c"/>
<rect x="294.8" y="623.8" width="16.4" height="6" rx="3" fill="#0a0a0a"/>
<rect x="313.8" y="623.8" width="16.4" height="6" rx="3" fill="#0a0a0a"/>
<rect x="332.8" y="623.8" width="16.4" height="6" rx="3" fill="#0a0a0a"/>
<rect x="351.8" y="623.8" width="16.4" height="6" rx="3" fill="#0a0a0a"/>
<rect x="370.8" y="623.8" width="16.4" height="6" rx="3" fill="#0a0a0a"/>
<rect x="389.8" y="623.8" width="16.4" height="6" rx="3" fill="#0a0a0a"/>
<rect x="409.8" y="623.8" width="16.4" height="6" rx="3" fill="#0a0a0a"/>
<ellipse cx="300" cy="646" rx="4.0" ry="0.75" fill="#000" opacity="0.15"/>
<ellipse cx="319" cy="645.5" rx="4.0" ry="0.75" fill="#000" opacity="0.18"/>
<ellipse cx="337" cy="646" rx="6.0" ry="1.5" fill="#000" opacity="0.6"/>
<rect x="349" y="643.5" width="15.5" height="5.5" rx="2" fill="#0a0a0a"/>
<rect x="291" y="657.9" width="18.5" height="6" rx="3" fill="#0a0a0a"/>
<rect x="310.5" y="657.9" width="17.0" height="6" rx="3" fill="#0a0a0a"/>
<rect x="329" y="657.9" width="17.5" height="6" rx="3" fill="#0a0a0a"/>
<rect x="348.5" y="657.9" width="16.0" height="6" rx="3" fill="#0a0a0a"/>
</g>
<text class="lb" x="261" y="622.3">BL-8</text>
<text class="lb" x="261" y="654.3">BL-5</text>
<text class="lb" x="434.5" y="609.5">Ea-D</text>
<text class="lb" x="434.5" y="630.5"><tspan font-family="Liberation Serif, serif" font-weight="normal" font-size="10">β</tspan>-actin</text>
<text class="lb" x="372.5" y="649.5">Ea-D</text>
<text class="lb" x="372.5" y="664.5"><tspan font-family="Liberation Serif, serif" font-weight="normal" font-size="10">β</tspan>-actin</text>
</svg></body></html>
